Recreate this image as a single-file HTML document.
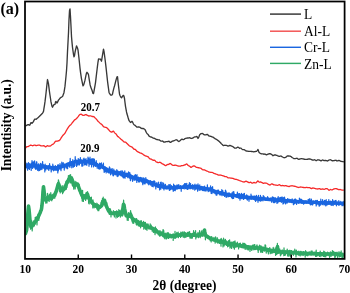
<!DOCTYPE html>
<html><head><meta charset="utf-8">
<style>
html,body{margin:0;padding:0;background:#fff;}
body{width:350px;height:293px;overflow:hidden;position:relative;}
svg{position:absolute;left:0;top:0;filter:blur(0.3px);}
text{font-family:"Liberation Serif",serif;}
</style></head>
<body>
<svg width="350" height="293" viewBox="0 0 350 293">
<defs><clipPath id="pc"><rect x="25.6" y="2.4" width="318.2" height="255.6"/></clipPath></defs>
<g fill="none" stroke-linejoin="round" stroke-linecap="round" clip-path="url(#pc)">
<path d="M25.0 233.0L25.5 233.5L26.0 232.0L26.5 230.5L27.0 226.4L27.5 218.3L28.0 211.4L28.5 206.1L29.0 209.2L29.5 214.7L30.0 220.4L30.5 224.5L31.0 226.9L31.5 226.4L32.0 226.0L32.5 225.5L33.0 224.8L33.5 224.2L34.0 223.5L34.5 222.8L35.0 222.2L35.5 221.5L36.0 220.7L36.5 219.9L37.0 219.2L37.5 218.2L38.0 217.2L38.5 216.2L39.0 215.1L39.5 214.0L40.0 212.9L40.5 211.7L41.0 210.4L41.5 209.0L42.0 205.3L42.5 200.0L43.0 191.4L43.5 186.8L44.0 190.5L44.5 196.2L45.0 199.4L45.5 199.5L46.0 199.0L46.5 198.4L47.0 197.8L47.5 197.5L48.0 197.3L48.5 197.2L49.0 197.1L49.5 197.0L50.0 197.2L50.5 197.4L51.0 197.6L51.5 197.9L52.0 197.8L52.5 197.4L53.0 196.9L53.5 196.5L54.0 196.0L54.5 195.0L55.0 194.0L55.5 192.9L56.0 191.9L56.5 190.4L57.0 188.6L57.5 186.8L58.0 185.0L58.5 183.7L59.0 184.9L59.5 186.1L60.0 187.3L60.5 188.5L61.0 189.2L61.5 189.5L62.0 189.9L62.5 190.2L63.0 190.3L63.5 189.5L64.0 188.8L64.5 188.0L65.0 187.2L65.5 186.1L66.0 185.0L66.5 183.8L67.0 182.7L67.5 181.7L68.0 180.8L68.5 179.9L69.0 179.0L69.5 178.2L70.0 177.8L70.5 177.6L71.0 177.8L71.5 178.2L72.0 179.2L72.5 181.0L73.0 182.9L73.5 185.1L74.0 185.7L74.5 185.1L75.0 184.6L75.5 184.4L76.0 184.3L76.5 184.2L77.0 184.1L77.5 184.0L78.0 185.4L78.5 186.7L79.0 188.1L79.5 189.5L80.0 190.7L80.5 191.9L81.0 193.1L81.5 194.3L82.0 195.5L82.5 195.6L83.0 195.7L83.5 195.8L84.0 195.9L84.5 196.0L85.0 195.8L85.5 195.7L86.0 195.6L86.5 195.5L87.0 193.7L87.5 194.2L88.0 196.2L88.5 197.4L89.0 198.2L89.5 198.9L90.0 199.7L90.5 200.4L91.0 201.1L91.5 201.8L92.0 202.5L92.5 203.0L93.0 203.5L93.5 204.0L94.0 204.5L94.5 204.9L95.0 205.2L95.5 205.6L96.0 206.0L96.5 206.2L97.0 206.4L97.5 206.6L98.0 206.8L98.5 207.0L99.0 206.8L99.5 206.7L100.0 206.5L100.5 206.3L101.0 206.1L101.5 205.8L102.0 204.9L102.5 203.9L103.0 203.0L103.5 201.7L104.0 200.3L104.5 200.2L105.0 201.9L105.5 203.6L106.0 205.2L106.5 206.3L107.0 207.4L107.5 208.5L108.0 209.5L108.5 210.5L109.0 211.5L109.5 212.0L110.0 212.3L110.5 212.6L111.0 212.9L111.5 213.3L112.0 213.4L112.5 213.4L113.0 213.4L113.5 213.4L114.0 213.4L114.5 213.3L115.0 213.2L115.5 213.0L116.0 212.9L116.5 212.7L117.0 212.6L117.5 212.8L118.0 213.0L118.5 213.1L119.0 213.3L119.5 213.4L120.0 213.6L120.5 213.8L121.0 214.0L121.5 214.1L122.0 214.3L122.5 211.0L123.0 207.7L123.5 204.3L124.0 205.0L124.5 208.3L125.0 210.6L125.5 212.7L126.0 214.8L126.5 215.9L127.0 215.8L127.5 215.6L128.0 215.4L128.5 215.2L129.0 215.1L129.5 214.8L130.0 214.6L130.5 214.3L131.0 215.3L131.5 216.6L132.0 217.8L132.5 218.7L133.0 219.1L133.5 219.4L134.0 219.7L134.5 220.0L135.0 220.4L135.5 220.7L136.0 221.0L136.5 221.4L137.0 221.7L137.5 222.0L138.0 222.2L138.5 222.4L139.0 222.6L139.5 222.8L140.0 223.0L140.5 223.2L141.0 223.5L141.5 223.8L142.0 224.0L142.5 224.2L143.0 224.5L143.5 224.8L144.0 225.0L144.5 225.2L145.0 225.5L145.5 225.8L146.0 226.0L146.5 226.2L147.0 226.5L147.5 226.8L148.0 227.0L148.5 227.1L149.0 227.2L149.5 227.4L150.0 227.5L150.5 227.6L151.0 227.8L151.5 227.9L152.0 228.0L152.5 228.4L153.0 228.8L153.5 229.1L154.0 229.5L154.5 229.9L155.0 230.2L155.5 230.6L156.0 231.0L156.5 231.2L157.0 231.5L157.5 231.8L158.0 232.0L158.5 232.2L159.0 232.5L159.5 232.8L160.0 233.0L160.5 233.2L161.0 233.5L161.5 233.8L162.0 234.0L162.5 234.2L163.0 234.5L163.5 234.8L164.0 235.0L164.5 235.1L165.0 235.1L165.5 235.2L166.0 235.2L166.5 235.2L167.0 235.3L167.5 235.3L168.0 235.4L168.5 235.5L169.0 235.6L169.5 235.6L170.0 235.7L170.5 235.8L171.0 235.8L171.5 235.9L172.0 236.0L172.5 236.0L173.0 236.0L173.5 236.0L174.0 236.0L174.5 236.0L175.0 236.0L175.5 236.0L176.0 236.0L176.5 235.9L177.0 235.8L177.5 235.6L178.0 235.5L178.5 235.4L179.0 235.2L179.5 235.1L180.0 235.0L180.5 234.9L181.0 234.9L181.5 234.8L182.0 234.8L182.5 234.8L183.0 234.7L183.5 234.7L184.0 234.6L184.5 234.6L185.0 234.7L185.5 234.7L186.0 234.7L186.5 234.7L187.0 234.8L187.5 234.8L188.0 234.8L188.5 234.8L189.0 234.9L189.5 234.9L190.0 234.9L190.5 234.9L191.0 234.9L191.5 235.0L192.0 235.0L192.5 235.0L193.0 235.1L193.5 235.1L194.0 235.1L194.5 235.1L195.0 235.1L195.5 235.2L196.0 235.2L196.5 235.2L197.0 235.1L197.5 235.1L198.0 235.1L198.5 235.1L199.0 235.1L199.5 235.0L200.0 235.0L200.5 234.8L201.0 234.5L201.5 234.2L202.0 234.0L202.5 233.8L203.0 233.5L203.5 233.2L204.0 233.0L204.5 230.0L205.0 235.0L205.5 235.3L206.0 235.6L206.5 235.9L207.0 236.3L207.5 236.6L208.0 236.9L208.5 237.2L209.0 237.5L209.5 237.9L210.0 238.2L210.5 238.5L211.0 238.8L211.5 239.0L212.0 239.1L212.5 239.3L213.0 239.5L213.5 239.6L214.0 239.8L214.5 240.0L215.0 240.1L215.5 240.3L216.0 240.5L216.5 240.6L217.0 240.8L217.5 240.9L218.0 241.1L218.5 241.2L219.0 241.4L219.5 241.5L220.0 241.6L220.5 241.8L221.0 241.9L221.5 242.0L222.0 242.2L222.5 242.3L223.0 242.4L223.5 242.6L224.0 242.7L224.5 242.9L225.0 243.0L225.5 243.1L226.0 243.2L226.5 243.3L227.0 243.4L227.5 243.5L228.0 243.6L228.5 243.7L229.0 243.8L229.5 243.9L230.0 244.0L230.5 244.1L231.0 244.2L231.5 244.3L232.0 244.4L232.5 244.5L233.0 244.6L233.5 244.7L234.0 244.8L234.5 244.9L235.0 244.9L235.5 245.0L236.0 245.1L236.5 245.2L237.0 245.3L237.5 245.4L238.0 245.5L238.5 245.6L239.0 245.7L239.5 245.7L240.0 245.8L240.5 245.9L241.0 246.0L241.5 246.1L242.0 246.1L242.5 246.2L243.0 246.2L243.5 246.3L244.0 246.4L244.5 246.4L245.0 246.5L245.5 246.6L246.0 246.6L246.5 246.7L247.0 246.8L247.5 246.8L248.0 246.9L248.5 246.9L249.0 247.0L249.5 247.1L250.0 247.1L250.5 247.2L251.0 247.2L251.5 247.3L252.0 247.4L252.5 247.4L253.0 247.5L253.5 247.6L254.0 247.6L254.5 247.7L255.0 247.8L255.5 247.8L256.0 247.9L256.5 247.9L257.0 248.0L257.5 248.1L258.0 248.1L258.5 248.2L259.0 248.2L259.5 248.3L260.0 248.4L260.5 248.4L261.0 248.5L261.5 248.6L262.0 248.6L262.5 248.7L263.0 248.8L263.5 248.8L264.0 248.9L264.5 248.9L265.0 249.0L265.5 249.1L266.0 249.2L266.5 249.4L267.0 249.5L267.5 249.6L268.0 249.8L268.5 249.9L269.0 250.0L269.5 250.1L270.0 250.2L270.5 250.4L271.0 250.5L271.5 250.6L272.0 250.8L272.5 250.9L273.0 251.0L273.5 251.1L274.0 251.1L274.5 251.2L275.0 251.3L275.5 251.3L276.0 251.4L276.5 251.5L277.0 249.5L277.5 246.6L278.0 252.0L278.5 252.0L279.0 252.0L279.5 252.0L280.0 252.0L280.5 252.0L281.0 252.0L281.5 252.0L282.0 252.0L282.5 252.0L283.0 252.0L283.5 252.0L284.0 252.0L284.5 252.0L285.0 252.0L285.5 252.0L286.0 252.1L286.5 252.1L287.0 252.2L287.5 252.2L288.0 252.2L288.5 252.3L289.0 252.3L289.5 252.4L290.0 252.4L290.5 252.4L291.0 252.5L291.5 252.5L292.0 252.6L292.5 252.6L293.0 252.6L293.5 252.7L294.0 252.7L294.5 252.8L295.0 252.8L295.5 252.8L296.0 252.9L296.5 252.9L297.0 252.9L297.5 253.0L298.0 253.0L298.5 253.0L299.0 253.1L299.5 253.1L300.0 253.2L300.5 253.2L301.0 253.2L301.5 253.3L302.0 253.3L302.5 253.3L303.0 253.4L303.5 253.4L304.0 253.4L304.5 253.5L305.0 253.5L305.5 253.5L306.0 253.5L306.5 253.5L307.0 253.6L307.5 253.6L308.0 253.6L308.5 253.6L309.0 253.6L309.5 253.6L310.0 253.7L310.5 253.7L311.0 253.7L311.5 253.7L312.0 253.7L312.5 253.7L313.0 253.7L313.5 253.8L314.0 253.8L314.5 253.8L315.0 253.8L315.5 253.8L316.0 253.8L316.5 253.8L317.0 253.8L317.5 253.9L318.0 253.9L318.5 253.9L319.0 253.9L319.5 253.9L320.0 253.9L320.5 253.9L321.0 253.9L321.5 253.9L322.0 253.9L322.5 253.9L323.0 254.0L323.5 254.0L324.0 254.0L324.5 254.0L325.0 254.0L325.5 254.0L326.0 254.0L326.5 254.0L327.0 254.0L327.5 254.0L328.0 254.0L328.5 254.0L329.0 254.0L329.5 254.0L330.0 254.0L330.5 254.0L331.0 254.0L331.5 254.0L332.0 254.0L332.5 254.0L333.0 254.0L333.5 254.0L334.0 254.0L334.5 254.0L335.0 254.0L335.5 254.0L336.0 254.1L336.5 254.1L337.0 254.1L337.5 254.2L338.0 254.2L338.5 254.2L339.0 254.3L339.5 254.3L340.0 254.3L340.5 254.4L341.0 254.4L341.5 254.4L342.0 254.5L342.5 254.5L343.0 254.5L343.5 254.6L344.0 254.6" stroke="#2fa965" stroke-width="3.6"/>
<path d="M25.0 233.1L25.2 234.4L25.4 230.9L25.6 234.9L25.8 231.6L26.0 228.0L26.2 229.8L26.4 232.3L26.6 231.0L26.8 226.7L27.0 227.9L27.2 222.9L27.4 221.0L27.6 217.5L27.8 210.6L28.0 212.3L28.2 207.7L28.4 211.0L28.6 206.8L28.8 207.2L29.0 206.8L29.2 211.5L29.4 213.9L29.6 212.8L29.8 223.6L30.0 221.4L30.2 226.9L30.4 221.2L30.6 229.2L30.8 223.0L31.0 225.3L31.2 228.1L31.4 226.7L31.6 220.6L31.8 223.4L32.0 228.1L32.2 231.0L32.4 227.9L32.6 224.7L32.8 227.1L33.0 222.0L33.2 225.8L33.4 220.9L33.6 224.0L33.8 223.4L34.0 225.5L34.2 222.5L34.4 226.0L34.6 222.2L34.8 224.5L35.0 224.1L35.2 217.3L35.4 221.7L35.6 221.4L35.8 219.1L36.0 221.2L36.2 216.8L36.4 221.5L36.6 221.0L36.8 220.2L37.0 224.9L37.2 219.7L37.4 218.6L37.6 216.2L37.8 218.3L38.0 214.8L38.2 220.0L38.4 214.8L38.6 216.4L38.8 220.5L39.0 218.0L39.2 215.3L39.4 217.7L39.6 213.7L39.8 215.3L40.0 213.0L40.2 210.3L40.4 213.0L40.6 213.8L40.8 210.0L41.0 207.6L41.2 208.5L41.4 203.6L41.6 207.3L41.8 204.8L42.0 210.3L42.2 201.8L42.4 197.2L42.6 200.4L42.8 194.4L43.0 191.5L43.2 188.5L43.4 187.7L43.6 185.5L43.8 189.9L44.0 191.8L44.2 192.3L44.4 195.2L44.6 194.5L44.8 198.8L45.0 201.2L45.2 201.5L45.4 201.2L45.6 199.1L45.8 203.1L46.0 198.5L46.2 198.8L46.4 197.7L46.6 198.5L46.8 197.5L47.0 202.9L47.2 198.7L47.4 193.3L47.6 196.4L47.8 193.9L48.0 199.5L48.2 200.7L48.4 196.1L48.6 198.7L48.8 196.7L49.0 198.1L49.2 201.4L49.4 196.2L49.6 194.0L49.8 198.9L50.0 198.5L50.2 198.9L50.4 199.9L50.6 195.8L50.8 192.7L51.0 200.2L51.2 196.7L51.4 194.8L51.6 195.0L51.8 200.8L52.0 198.3L52.2 198.4L52.4 199.5L52.6 195.6L52.8 194.3L53.0 194.8L53.2 194.0L53.4 195.8L53.6 194.2L53.8 196.3L54.0 194.8L54.2 195.4L54.4 196.8L54.6 198.2L54.8 198.2L55.0 194.2L55.2 194.1L55.4 191.9L55.6 195.2L55.8 196.1L56.0 190.4L56.2 193.4L56.4 190.0L56.6 189.6L56.8 189.8L57.0 187.6L57.2 190.1L57.4 183.5L57.6 184.7L57.8 185.4L58.0 182.4L58.2 185.1L58.4 179.8L58.6 184.1L58.8 180.9L59.0 184.6L59.2 186.7L59.4 191.3L59.6 189.0L59.8 190.8L60.0 187.5L60.2 193.0L60.4 187.7L60.6 188.1L60.8 185.9L61.0 189.7L61.2 191.9L61.4 187.9L61.6 188.7L61.8 188.6L62.0 189.1L62.2 188.6L62.4 186.9L62.6 193.7L62.8 185.6L63.0 188.1L63.2 190.9L63.4 192.2L63.6 188.9L63.8 188.4L64.0 188.9L64.2 187.8L64.4 190.3L64.6 186.6L64.8 185.1L65.0 186.0L65.2 187.0L65.4 189.3L65.6 189.8L65.8 184.4L66.0 181.4L66.2 181.1L66.4 189.2L66.6 182.6L66.8 184.3L67.0 187.4L67.2 180.6L67.4 181.4L67.6 180.1L67.8 178.5L68.0 182.7L68.2 183.0L68.4 175.5L68.6 182.1L68.8 178.8L69.0 179.5L69.2 179.2L69.4 175.2L69.6 177.2L69.8 175.5L70.0 182.5L70.2 183.1L70.4 177.8L70.6 174.7L70.8 180.4L71.0 177.3L71.2 182.2L71.4 182.9L71.6 182.4L71.8 177.5L72.0 176.8L72.2 178.3L72.4 180.4L72.6 179.2L72.8 185.0L73.0 184.5L73.2 183.7L73.4 183.7L73.6 187.1L73.8 189.2L74.0 181.0L74.2 186.0L74.4 184.5L74.6 183.2L74.8 184.0L75.0 184.9L75.2 189.0L75.4 184.6L75.6 183.4L75.8 181.4L76.0 186.2L76.2 182.4L76.4 184.0L76.6 185.9L76.8 184.3L77.0 183.2L77.2 183.6L77.4 186.2L77.6 184.2L77.8 185.4L78.0 186.4L78.2 185.1L78.4 187.3L78.6 186.3L78.8 190.3L79.0 189.3L79.2 184.4L79.4 188.7L79.6 192.4L79.8 189.7L80.0 189.7L80.2 193.6L80.4 189.0L80.6 192.3L80.8 194.1L81.0 195.2L81.2 191.1L81.4 191.0L81.6 198.2L81.8 193.1L82.0 195.3L82.2 201.1L82.4 194.5L82.6 190.3L82.8 201.2L83.0 198.2L83.2 196.6L83.4 201.4L83.6 195.7L83.8 199.4L84.0 196.0L84.2 195.3L84.4 197.5L84.6 198.1L84.8 199.0L85.0 198.7L85.2 194.6L85.4 195.6L85.6 200.4L85.8 197.1L86.0 195.8L86.2 198.8L86.4 198.9L86.6 198.3L86.8 193.1L87.0 192.8L87.2 194.8L87.4 196.7L87.6 191.7L87.8 194.3L88.0 195.6L88.2 199.4L88.4 194.7L88.6 203.2L88.8 198.1L89.0 199.7L89.2 203.9L89.4 200.3L89.6 200.9L89.8 199.0L90.0 200.8L90.2 197.5L90.4 200.1L90.6 200.7L90.8 198.5L91.0 203.6L91.2 202.5L91.4 197.2L91.6 203.9L91.8 200.0L92.0 203.9L92.2 200.8L92.4 202.1L92.6 204.1L92.8 208.0L93.0 199.9L93.2 202.9L93.4 203.1L93.6 206.8L93.8 203.7L94.0 205.5L94.2 207.9L94.4 206.7L94.6 204.0L94.8 204.1L95.0 204.6L95.2 205.8L95.4 203.5L95.6 205.6L95.8 207.3L96.0 204.9L96.2 205.0L96.4 206.9L96.6 208.2L96.8 203.1L97.0 204.1L97.2 209.6L97.4 206.5L97.6 204.0L97.8 207.0L98.0 210.6L98.2 205.4L98.4 204.7L98.6 206.4L98.8 210.7L99.0 205.3L99.2 208.0L99.4 209.1L99.6 208.1L99.8 205.7L100.0 208.0L100.2 206.8L100.4 208.3L100.6 207.2L100.8 206.6L101.0 202.0L101.2 207.6L101.4 205.7L101.6 200.7L101.8 205.1L102.0 205.6L102.2 204.2L102.4 198.6L102.6 202.0L102.8 201.1L103.0 202.2L103.2 197.0L103.4 202.6L103.6 202.7L103.8 202.2L104.0 200.2L104.2 199.5L104.4 202.2L104.6 201.6L104.8 200.2L105.0 202.6L105.2 204.2L105.4 206.1L105.6 205.1L105.8 202.8L106.0 204.1L106.2 206.2L106.4 206.8L106.6 209.0L106.8 202.6L107.0 205.8L107.2 205.2L107.4 210.9L107.6 210.5L107.8 209.9L108.0 211.4L108.2 208.6L108.4 211.6L108.6 210.9L108.8 211.3L109.0 211.2L109.2 214.0L109.4 214.4L109.6 208.7L109.8 211.0L110.0 212.5L110.2 213.8L110.4 208.8L110.6 210.6L110.8 212.1L111.0 217.0L111.2 211.1L111.4 212.3L111.6 213.3L111.8 213.2L112.0 213.8L112.2 213.4L112.4 213.0L112.6 214.1L112.8 214.1L113.0 214.3L113.2 214.3L113.4 210.7L113.6 213.8L113.8 213.8L114.0 215.2L114.2 215.0L114.4 216.9L114.6 211.5L114.8 213.0L115.0 213.7L115.2 211.7L115.4 212.5L115.6 212.2L115.8 211.9L116.0 218.1L116.2 212.7L116.4 216.1L116.6 210.8L116.8 213.3L117.0 211.2L117.2 213.5L117.4 216.6L117.6 217.3L117.8 214.8L118.0 214.0L118.2 213.1L118.4 214.0L118.6 216.3L118.8 209.6L119.0 212.6L119.2 211.2L119.4 215.7L119.6 210.7L119.8 215.5L120.0 211.1L120.2 211.3L120.4 217.2L120.6 216.2L120.8 211.9L121.0 210.1L121.2 212.0L121.4 215.5L121.6 214.2L121.8 212.2L122.0 215.6L122.2 216.1L122.4 209.2L122.6 210.2L122.8 207.2L123.0 210.2L123.2 206.6L123.4 203.6L123.6 200.0L123.8 205.3L124.0 204.4L124.2 206.7L124.4 207.3L124.6 210.0L124.8 206.0L125.0 208.9L125.2 212.3L125.4 216.4L125.6 213.9L125.8 213.8L126.0 213.4L126.2 214.2L126.4 215.5L126.6 214.2L126.8 216.2L127.0 215.8L127.2 220.2L127.4 215.5L127.6 218.1L127.8 214.6L128.0 217.6L128.2 220.5L128.4 214.1L128.6 212.7L128.8 217.6L129.0 215.3L129.2 214.5L129.4 215.9L129.6 215.5L129.8 217.5L130.0 215.6L130.2 213.3L130.4 212.1L130.6 210.6L130.8 212.5L131.0 217.8L131.2 212.8L131.4 216.5L131.6 219.6L131.8 218.7L132.0 221.3L132.2 220.1L132.4 222.2L132.6 217.6L132.8 217.2L133.0 223.4L133.2 220.0L133.4 219.6L133.6 218.3L133.8 223.2L134.0 220.9L134.2 221.0L134.4 218.7L134.6 220.4L134.8 219.4L135.0 220.2L135.2 221.3L135.4 219.6L135.6 219.0L135.8 222.7L136.0 218.9L136.2 224.3L136.4 224.7L136.6 218.5L136.8 225.1L137.0 220.0L137.2 224.8L137.4 220.8L137.6 223.8L137.8 220.0L138.0 223.7L138.2 222.6L138.4 225.9L138.6 224.2L138.8 220.7L139.0 223.4L139.2 221.3L139.4 223.2L139.6 226.2L139.8 226.4L140.0 223.4L140.2 221.4L140.4 223.5L140.6 227.8L140.8 223.2L141.0 220.5L141.2 220.7L141.4 221.2L141.6 226.2L141.8 223.3L142.0 222.5L142.2 224.9L142.4 226.3L142.6 224.1L142.8 222.8L143.0 225.0L143.2 226.4L143.4 221.3L143.6 221.9L143.8 229.2L144.0 226.0L144.2 225.9L144.4 222.3L144.6 223.3L144.8 224.9L145.0 228.2L145.2 225.9L145.4 222.3L145.6 229.1L145.8 229.3L146.0 227.9L146.2 223.9L146.4 224.9L146.6 225.8L146.8 226.7L147.0 230.3L147.2 223.8L147.4 225.3L147.6 226.8L147.8 225.8L148.0 226.0L148.2 224.0L148.4 227.2L148.6 226.5L148.8 227.6L149.0 229.2L149.2 226.8L149.4 227.1L149.6 228.0L149.8 226.5L150.0 227.9L150.2 223.9L150.4 225.8L150.6 228.7L150.8 228.1L151.0 229.5L151.2 225.0L151.4 226.8L151.6 227.7L151.8 227.8L152.0 227.5L152.2 231.1L152.4 227.3L152.6 227.8L152.8 229.7L153.0 229.7L153.2 229.2L153.4 232.5L153.6 230.4L153.8 228.9L154.0 227.5L154.2 232.2L154.4 228.5L154.6 230.8L154.8 229.0L155.0 234.6L155.2 231.9L155.4 226.9L155.6 231.3L155.8 228.0L156.0 229.8L156.2 232.8L156.4 228.5L156.6 232.0L156.8 231.2L157.0 233.0L157.2 229.6L157.4 233.0L157.6 231.0L157.8 234.0L158.0 232.1L158.2 233.4L158.4 234.9L158.6 234.5L158.8 232.3L159.0 233.9L159.2 232.6L159.4 233.5L159.6 236.1L159.8 231.1L160.0 230.5L160.2 234.0L160.4 232.0L160.6 235.8L160.8 235.1L161.0 234.7L161.2 233.5L161.4 232.7L161.6 231.9L161.8 232.7L162.0 233.9L162.2 232.1L162.4 236.2L162.6 235.5L162.8 231.7L163.0 229.7L163.2 236.8L163.4 232.2L163.6 230.0L163.8 231.4L164.0 235.4L164.2 237.8L164.4 236.9L164.6 238.0L164.8 238.7L165.0 238.9L165.2 233.1L165.4 234.7L165.6 233.9L165.8 235.3L166.0 234.5L166.2 235.8L166.4 239.0L166.6 233.8L166.8 236.8L167.0 233.3L167.2 232.7L167.4 237.4L167.6 235.1L167.8 235.5L168.0 238.4L168.2 232.7L168.4 235.6L168.6 238.5L168.8 233.4L169.0 236.1L169.2 237.5L169.4 237.5L169.6 237.0L169.8 237.7L170.0 236.7L170.2 237.3L170.4 236.6L170.6 234.0L170.8 236.1L171.0 235.6L171.2 238.2L171.4 237.0L171.6 237.0L171.8 236.4L172.0 237.4L172.2 234.9L172.4 236.6L172.6 234.6L172.8 235.3L173.0 233.8L173.2 240.5L173.4 237.3L173.6 234.1L173.8 235.3L174.0 236.7L174.2 235.1L174.4 237.5L174.6 236.9L174.8 238.4L175.0 231.3L175.2 237.6L175.4 236.5L175.6 238.1L175.8 234.9L176.0 234.5L176.2 233.7L176.4 236.9L176.6 236.2L176.8 232.4L177.0 234.6L177.2 235.7L177.4 233.3L177.6 234.9L177.8 235.4L178.0 234.4L178.2 232.2L178.4 237.7L178.6 235.9L178.8 236.0L179.0 234.1L179.2 235.6L179.4 233.8L179.6 234.9L179.8 235.3L180.0 236.2L180.2 233.8L180.4 233.4L180.6 237.5L180.8 232.1L181.0 235.3L181.2 234.7L181.4 236.3L181.6 234.0L181.8 232.8L182.0 235.1L182.2 232.1L182.4 232.7L182.6 234.7L182.8 235.0L183.0 231.8L183.2 237.2L183.4 234.6L183.6 237.1L183.8 236.8L184.0 234.7L184.2 233.8L184.4 231.8L184.6 236.6L184.8 237.7L185.0 235.0L185.2 234.8L185.4 232.9L185.6 232.7L185.8 234.5L186.0 237.2L186.2 234.2L186.4 236.5L186.6 235.5L186.8 234.5L187.0 233.1L187.2 234.0L187.4 232.4L187.6 236.5L187.8 235.8L188.0 232.9L188.2 233.5L188.4 232.2L188.6 235.2L188.8 236.1L189.0 233.1L189.2 234.0L189.4 235.7L189.6 231.6L189.8 235.4L190.0 238.1L190.2 238.2L190.4 234.7L190.6 234.9L190.8 236.5L191.0 236.4L191.2 238.0L191.4 235.6L191.6 235.8L191.8 235.8L192.0 238.5L192.2 233.3L192.4 237.7L192.6 235.7L192.8 235.8L193.0 233.6L193.2 235.2L193.4 233.5L193.6 230.5L193.8 235.8L194.0 232.7L194.2 235.5L194.4 232.8L194.6 234.6L194.8 234.6L195.0 232.0L195.2 235.4L195.4 234.2L195.6 230.7L195.8 239.0L196.0 236.4L196.2 236.1L196.4 235.5L196.6 237.1L196.8 234.4L197.0 236.8L197.2 237.2L197.4 234.4L197.6 235.5L197.8 235.7L198.0 232.4L198.2 236.0L198.4 235.2L198.6 237.7L198.8 235.6L199.0 233.6L199.2 235.5L199.4 234.2L199.6 230.6L199.8 234.8L200.0 232.7L200.2 237.6L200.4 235.6L200.6 236.6L200.8 235.4L201.0 234.2L201.2 235.9L201.4 231.4L201.6 235.9L201.8 234.0L202.0 230.3L202.2 233.7L202.4 235.1L202.6 232.9L202.8 236.4L203.0 236.1L203.2 232.3L203.4 231.9L203.6 232.9L203.8 232.3L204.0 234.5L204.2 233.3L204.4 230.4L204.6 232.5L204.8 233.0L205.0 234.9L205.2 233.9L205.4 239.8L205.6 237.3L205.8 236.8L206.0 234.5L206.2 232.9L206.4 234.6L206.6 235.3L206.8 235.6L207.0 237.6L207.2 235.8L207.4 237.9L207.6 237.7L207.8 238.2L208.0 236.8L208.2 238.7L208.4 237.6L208.6 237.8L208.8 237.2L209.0 237.4L209.2 238.2L209.4 239.2L209.6 236.7L209.8 237.6L210.0 238.4L210.2 240.6L210.4 238.6L210.6 239.9L210.8 240.6L211.0 239.0L211.2 242.0L211.4 237.2L211.6 236.5L211.8 237.0L212.0 237.7L212.2 238.2L212.4 238.8L212.6 240.1L212.8 238.6L213.0 238.5L213.2 240.8L213.4 239.4L213.6 240.2L213.8 239.0L214.0 237.4L214.2 239.8L214.4 239.8L214.6 240.8L214.8 240.1L215.0 238.6L215.2 243.1L215.4 238.0L215.6 236.8L215.8 239.2L216.0 239.5L216.2 241.5L216.4 239.5L216.6 240.7L216.8 241.2L217.0 242.1L217.2 237.7L217.4 241.4L217.6 238.6L217.8 243.1L218.0 239.6L218.2 239.8L218.4 242.2L218.6 241.2L218.8 241.1L219.0 242.7L219.2 240.4L219.4 240.3L219.6 243.5L219.8 240.5L220.0 242.0L220.2 239.3L220.4 241.7L220.6 241.2L220.8 242.6L221.0 246.2L221.2 238.3L221.4 240.1L221.6 241.4L221.8 242.4L222.0 239.4L222.2 242.1L222.4 240.7L222.6 242.5L222.8 240.6L223.0 246.9L223.2 242.9L223.4 243.9L223.6 238.2L223.8 241.1L224.0 242.4L224.2 246.0L224.4 241.2L224.6 243.6L224.8 241.2L225.0 242.7L225.2 239.4L225.4 239.4L225.6 241.6L225.8 244.8L226.0 244.8L226.2 242.9L226.4 240.8L226.6 245.5L226.8 242.7L227.0 241.6L227.2 242.7L227.4 243.0L227.6 246.8L227.8 243.5L228.0 242.6L228.2 242.8L228.4 240.7L228.6 246.1L228.8 241.9L229.0 244.0L229.2 242.0L229.4 242.4L229.6 239.8L229.8 244.1L230.0 248.2L230.2 247.5L230.4 244.9L230.6 246.8L230.8 242.7L231.0 242.0L231.2 246.4L231.4 243.0L231.6 248.4L231.8 247.0L232.0 242.2L232.2 243.8L232.4 243.8L232.6 246.0L232.8 243.8L233.0 244.5L233.2 241.8L233.4 247.7L233.6 246.4L233.8 244.9L234.0 241.7L234.2 245.1L234.4 249.2L234.6 245.7L234.8 247.3L235.0 240.9L235.2 244.4L235.4 244.6L235.6 247.1L235.8 243.2L236.0 246.7L236.2 247.2L236.4 245.4L236.6 244.9L236.8 246.1L237.0 243.3L237.2 242.3L237.4 242.1L237.6 245.7L237.8 244.8L238.0 245.2L238.2 244.4L238.4 245.3L238.6 249.0L238.8 244.9L239.0 243.8L239.2 243.3L239.4 243.8L239.6 246.7L239.8 245.3L240.0 245.0L240.2 245.3L240.4 243.1L240.6 244.1L240.8 245.1L241.0 245.1L241.2 246.4L241.4 247.6L241.6 244.7L241.8 246.5L242.0 246.7L242.2 244.9L242.4 247.0L242.6 247.9L242.8 243.0L243.0 246.9L243.2 246.9L243.4 246.7L243.6 243.3L243.8 248.1L244.0 246.0L244.2 244.7L244.4 243.3L244.6 247.1L244.8 246.0L245.0 243.8L245.2 249.4L245.4 244.1L245.6 247.7L245.8 244.7L246.0 246.1L246.2 247.8L246.4 246.1L246.6 247.6L246.8 246.7L247.0 249.5L247.2 248.1L247.4 247.7L247.6 245.5L247.8 246.1L248.0 247.3L248.2 250.1L248.4 249.7L248.6 247.3L248.8 249.2L249.0 247.3L249.2 247.5L249.4 247.2L249.6 246.6L249.8 248.1L250.0 251.4L250.2 246.7L250.4 249.4L250.6 249.0L250.8 247.4L251.0 248.8L251.2 246.6L251.4 247.7L251.6 250.1L251.8 250.4L252.0 247.5L252.2 247.2L252.4 245.1L252.6 248.9L252.8 246.6L253.0 246.0L253.2 248.0L253.4 247.6L253.6 245.0L253.8 249.8L254.0 244.6L254.2 244.6L254.4 249.4L254.6 247.1L254.8 244.5L255.0 249.6L255.2 249.4L255.4 247.4L255.6 247.6L255.8 248.1L256.0 249.3L256.2 247.6L256.4 245.8L256.6 247.7L256.8 247.0L257.0 244.9L257.2 247.0L257.4 246.0L257.6 248.2L257.8 250.2L258.0 249.0L258.2 252.4L258.4 248.9L258.6 248.4L258.8 246.5L259.0 249.8L259.2 248.9L259.4 245.2L259.6 247.1L259.8 249.5L260.0 247.5L260.2 249.1L260.4 248.8L260.6 252.2L260.8 245.7L261.0 248.2L261.2 246.0L261.4 246.9L261.6 252.1L261.8 250.3L262.0 249.7L262.2 248.5L262.4 248.7L262.6 252.4L262.8 246.8L263.0 251.1L263.2 250.8L263.4 247.1L263.6 249.3L263.8 247.6L264.0 249.0L264.2 250.5L264.4 249.5L264.6 251.2L264.8 250.4L265.0 244.9L265.2 250.6L265.4 246.8L265.6 245.0L265.8 248.6L266.0 248.3L266.2 253.1L266.4 251.3L266.6 251.0L266.8 249.6L267.0 251.2L267.2 248.4L267.4 251.7L267.6 248.9L267.8 249.5L268.0 250.3L268.2 248.6L268.4 254.0L268.6 250.3L268.8 249.3L269.0 248.4L269.2 248.9L269.4 250.1L269.6 251.2L269.8 247.6L270.0 249.5L270.2 253.7L270.4 251.0L270.6 250.5L270.8 249.8L271.0 250.1L271.2 250.9L271.4 253.2L271.6 253.2L271.8 249.8L272.0 249.2L272.2 251.8L272.4 249.9L272.6 252.7L272.8 253.0L273.0 249.7L273.2 247.3L273.4 248.6L273.6 250.9L273.8 249.0L274.0 251.7L274.2 251.5L274.4 251.3L274.6 250.9L274.8 250.0L275.0 252.3L275.2 247.8L275.4 252.1L275.6 255.5L275.8 253.7L276.0 251.4L276.2 250.9L276.4 252.1L276.6 251.2L276.8 254.5L277.0 248.5L277.2 247.2L277.4 243.4L277.6 248.7L277.8 247.0L278.0 253.5L278.2 253.0L278.4 249.7L278.6 252.7L278.8 251.5L279.0 251.0L279.2 249.6L279.4 249.1L279.6 249.4L279.8 249.0L280.0 252.0L280.2 250.2L280.4 255.8L280.6 252.6L280.8 254.0L281.0 250.8L281.2 254.8L281.4 251.2L281.6 253.7L281.8 252.6L282.0 253.2L282.2 249.9L282.4 250.3L282.6 253.7L282.8 252.8L283.0 250.9L283.2 253.0L283.4 252.2L283.6 251.0L283.8 255.6L284.0 247.9L284.2 251.5L284.4 253.5L284.6 252.7L284.8 255.5L285.0 253.0L285.2 252.9L285.4 250.9L285.6 254.9L285.8 251.0L286.0 251.5L286.2 251.5L286.4 253.2L286.6 251.1L286.8 252.0L287.0 251.3L287.2 249.1L287.4 251.0L287.6 255.8L287.8 251.5L288.0 252.5L288.2 256.3L288.4 250.9L288.6 253.5L288.8 254.4L289.0 250.6L289.2 255.1L289.4 253.9L289.6 250.3L289.8 252.5L290.0 250.3L290.2 256.4L290.4 256.2L290.6 252.5L290.8 251.3L291.0 253.3L291.2 250.5L291.4 252.1L291.6 250.6L291.8 252.1L292.0 253.3L292.2 253.1L292.4 253.9L292.6 251.7L292.8 254.2L293.0 252.8L293.2 253.3L293.4 255.3L293.6 252.8L293.8 251.0L294.0 253.9L294.2 250.9L294.4 252.9L294.6 252.7L294.8 249.1L295.0 250.3L295.2 251.2L295.4 253.4L295.6 254.4L295.8 253.0L296.0 256.9L296.2 254.3L296.4 250.2L296.6 254.0L296.8 251.2L297.0 251.6L297.2 252.5L297.4 252.6L297.6 253.6L297.8 254.3L298.0 254.9L298.2 252.1L298.4 253.2L298.6 255.1L298.8 251.2L299.0 254.8L299.2 254.4L299.4 252.5L299.6 255.2L299.8 253.9L300.0 254.4L300.2 255.9L300.4 253.0L300.6 251.3L300.8 252.4L301.0 251.4L301.2 255.0L301.4 252.6L301.6 252.5L301.8 252.2L302.0 255.2L302.2 253.8L302.4 254.6L302.6 253.7L302.8 252.1L303.0 251.8L303.2 255.4L303.4 252.9L303.6 254.5L303.8 251.5L304.0 252.9L304.2 252.5L304.4 252.0L304.6 254.4L304.8 254.9L305.0 253.0L305.2 257.1L305.4 253.4L305.6 250.7L305.8 254.4L306.0 251.3L306.2 252.9L306.4 254.0L306.6 255.5L306.8 254.5L307.0 252.3L307.2 255.7L307.4 254.0L307.6 255.7L307.8 255.8L308.0 253.6L308.2 252.4L308.4 254.8L308.6 253.7L308.8 253.5L309.0 253.8L309.2 252.2L309.4 251.9L309.6 252.7L309.8 253.9L310.0 253.1L310.2 254.7L310.4 254.9L310.6 254.4L310.8 251.9L311.0 251.2L311.2 252.0L311.4 251.7L311.6 255.0L311.8 255.0L312.0 250.9L312.2 253.0L312.4 253.4L312.6 252.2L312.8 253.2L313.0 252.2L313.2 253.0L313.4 253.7L313.6 254.3L313.8 252.4L314.0 254.9L314.2 252.3L314.4 253.1L314.6 253.4L314.8 252.2L315.0 254.5L315.2 252.6L315.4 252.2L315.6 256.5L315.8 253.3L316.0 253.1L316.2 250.0L316.4 253.5L316.6 256.3L316.8 253.2L317.0 253.3L317.2 255.1L317.4 255.2L317.6 255.7L317.8 254.9L318.0 253.4L318.2 252.6L318.4 254.8L318.6 254.7L318.8 254.7L319.0 252.7L319.2 253.0L319.4 256.4L319.6 253.2L319.8 254.9L320.0 253.9L320.2 251.1L320.4 254.8L320.6 252.2L320.8 256.6L321.0 253.3L321.2 252.8L321.4 253.6L321.6 253.8L321.8 253.2L322.0 253.3L322.2 255.7L322.4 254.1L322.6 255.1L322.8 254.1L323.0 254.9L323.2 252.9L323.4 256.5L323.6 252.4L323.8 251.1L324.0 251.7L324.2 252.3L324.4 253.5L324.6 256.7L324.8 251.9L325.0 255.1L325.2 252.4L325.4 256.1L325.6 254.9L325.8 257.0L326.0 253.5L326.2 255.2L326.4 255.4L326.6 253.2L326.8 253.8L327.0 252.9L327.2 252.7L327.4 252.9L327.6 252.0L327.8 255.3L328.0 253.8L328.2 252.5L328.4 254.0L328.6 254.4L328.8 253.4L329.0 255.6L329.2 253.5L329.4 254.1L329.6 257.5L329.8 253.0L330.0 254.0L330.2 254.4L330.4 251.9L330.6 253.2L330.8 255.2L331.0 256.5L331.2 252.8L331.4 254.7L331.6 253.5L331.8 253.2L332.0 252.0L332.2 254.6L332.4 250.5L332.6 255.0L332.8 254.3L333.0 254.4L333.2 253.6L333.4 251.8L333.6 251.4L333.8 254.1L334.0 254.8L334.2 254.2L334.4 252.4L334.6 255.4L334.8 257.7L335.0 253.2L335.2 252.4L335.4 253.3L335.6 256.9L335.8 252.7L336.0 253.2L336.2 253.8L336.4 253.6L336.6 255.2L336.8 253.3L337.0 252.1L337.2 254.4L337.4 254.2L337.6 257.4L337.8 256.1L338.0 257.1L338.2 254.3L338.4 254.9L338.6 255.0L338.8 254.3L339.0 251.7L339.2 255.2L339.4 254.6L339.6 257.0L339.8 256.1L340.0 253.5L340.2 254.9L340.4 252.6L340.6 256.3L340.8 254.1L341.0 252.3L341.2 250.9L341.4 255.7L341.6 255.4L341.8 253.0L342.0 258.2L342.2 253.5L342.4 257.0L342.6 253.4L342.8 254.9L343.0 253.6L343.2 257.9L343.4 256.1L343.6 255.0L343.8 255.2L344.0 254.8" stroke="#2fa965" stroke-width="1.2"/>
<path d="M25.0 166.6L26.0 166.5L27.0 166.4L28.0 166.3L29.0 166.2L30.0 166.1L31.0 166.0L32.0 165.9L33.0 165.8L34.0 165.9L35.0 166.0L36.0 166.1L37.0 166.2L38.0 166.3L39.0 166.4L40.0 166.5L41.0 166.6L42.0 166.7L43.0 166.8L44.0 166.9L45.0 167.1L46.0 167.2L47.0 167.3L48.0 167.4L49.0 167.5L50.0 167.6L51.0 167.7L52.0 167.8L53.0 167.9L54.0 168.0L55.0 168.1L56.0 168.2L57.0 168.2L58.0 167.8L59.0 167.5L60.0 167.2L61.0 166.8L62.0 166.5L63.0 166.1L64.0 165.8L65.0 165.4L66.0 165.0L67.0 164.6L68.0 164.2L69.0 163.8L70.0 163.4L71.0 163.1L72.0 162.7L73.0 162.4L74.0 162.1L75.0 161.7L76.0 161.6L77.0 161.6L78.0 161.5L79.0 161.5L80.0 161.5L81.0 161.5L82.0 161.6L83.0 161.6L84.0 161.7L85.0 161.7L86.0 161.8L87.0 161.9L88.0 161.9L89.0 162.0L90.0 162.1L91.0 162.4L92.0 162.9L93.0 163.3L94.0 163.8L95.0 164.2L96.0 164.6L97.0 165.0L98.0 165.4L99.0 165.8L100.0 166.2L101.0 166.6L102.0 167.1L103.0 167.6L104.0 168.1L105.0 168.6L106.0 169.1L107.0 169.6L108.0 170.1L109.0 170.6L110.0 171.1L111.0 171.5L112.0 171.7L113.0 171.9L114.0 172.0L115.0 172.2L116.0 172.4L117.0 172.7L118.0 173.1L119.0 173.4L120.0 173.7L121.0 174.1L122.0 174.2L123.0 174.4L124.0 174.5L125.0 174.7L126.0 174.9L127.0 175.1L128.0 175.5L129.0 175.9L130.0 176.2L131.0 176.6L132.0 177.0L133.0 177.4L134.0 177.8L135.0 178.2L136.0 178.6L137.0 179.0L138.0 179.1L139.0 179.3L140.0 179.5L141.0 179.8L142.0 180.0L143.0 180.2L144.0 180.5L145.0 180.8L146.0 181.0L147.0 181.2L148.0 181.5L149.0 181.9L150.0 182.3L151.0 182.7L152.0 183.2L153.0 183.6L154.0 184.0L155.0 184.4L156.0 184.8L157.0 185.1L158.0 185.3L159.0 185.6L160.0 185.9L161.0 186.1L162.0 186.4L163.0 186.6L164.0 186.9L165.0 187.0L166.0 187.1L167.0 187.2L168.0 187.4L169.0 187.5L170.0 187.6L171.0 187.7L172.0 187.8L173.0 187.7L174.0 187.7L175.0 187.6L176.0 187.6L177.0 187.5L178.0 187.4L179.0 187.4L180.0 187.3L181.0 187.2L182.0 187.1L183.0 187.0L184.0 186.9L185.0 186.9L186.0 186.8L187.0 186.7L188.0 186.6L189.0 186.7L190.0 186.7L191.0 186.8L192.0 186.8L193.0 186.8L194.0 186.9L195.0 186.9L196.0 187.0L197.0 187.2L198.0 187.3L199.0 187.5L200.0 187.7L201.0 187.9L202.0 188.1L203.0 188.2L204.0 188.4L205.0 188.5L206.0 188.6L207.0 188.8L208.0 188.9L209.0 189.0L210.0 189.4L211.0 189.9L212.0 190.3L213.0 190.7L214.0 191.2L215.0 191.6L216.0 191.8L217.0 192.1L218.0 192.3L219.0 192.6L220.0 192.8L221.0 193.0L222.0 193.3L223.0 193.5L224.0 193.8L225.0 194.0L226.0 194.2L227.0 194.3L228.0 194.5L229.0 194.6L230.0 194.8L231.0 195.0L232.0 195.1L233.0 195.3L234.0 195.4L235.0 195.6L236.0 195.7L237.0 195.9L238.0 196.0L239.0 196.2L240.0 196.3L241.0 196.4L242.0 196.6L243.0 196.7L244.0 196.9L245.0 197.0L246.0 197.1L247.0 197.3L248.0 197.4L249.0 197.6L250.0 197.7L251.0 197.8L252.0 198.0L253.0 198.1L254.0 198.3L255.0 198.4L256.0 198.5L257.0 198.5L258.0 198.6L259.0 198.6L260.0 198.7L261.0 198.8L262.0 198.8L263.0 198.9L264.0 198.9L265.0 199.0L266.0 199.1L267.0 199.2L268.0 199.3L269.0 199.4L270.0 199.5L271.0 199.6L272.0 199.7L273.0 199.8L274.0 199.9L275.0 200.0L276.0 200.1L277.0 200.1L278.0 200.2L279.0 200.2L280.0 200.3L281.0 200.4L282.0 200.4L283.0 200.5L284.0 200.5L285.0 200.6L286.0 200.7L287.0 200.8L288.0 200.8L289.0 200.9L290.0 201.0L291.0 201.1L292.0 201.2L293.0 201.2L294.0 201.3L295.0 201.4L296.0 201.5L297.0 201.5L298.0 201.6L299.0 201.6L300.0 201.7L301.0 201.8L302.0 201.8L303.0 201.9L304.0 201.9L305.0 202.0L306.0 202.0L307.0 202.1L308.0 202.1L309.0 202.2L310.0 202.2L311.0 202.2L312.0 202.3L313.0 202.3L314.0 202.4L315.0 202.4L316.0 202.5L317.0 202.5L318.0 202.6L319.0 202.6L320.0 202.7L321.0 202.8L322.0 202.8L323.0 202.9L324.0 202.9L325.0 203.0L326.0 203.0L327.0 203.0L328.0 203.0L329.0 203.0L330.0 203.0L331.0 203.0L332.0 203.0L333.0 203.0L334.0 203.0L335.0 203.0L336.0 203.1L337.0 203.1L338.0 203.2L339.0 203.3L340.0 203.3L341.0 203.4L342.0 203.5L343.0 203.5L344.0 203.6" stroke="#1a66e0" stroke-width="3.4"/>
<path d="M25.0 170.7L25.2 167.6L25.4 166.8L25.6 162.3L25.8 165.9L26.0 165.7L26.2 166.3L26.4 165.0L26.6 166.3L26.8 165.3L27.0 163.4L27.2 168.4L27.4 168.4L27.6 170.2L27.8 166.4L28.0 165.4L28.2 165.0L28.4 162.7L28.6 168.5L28.8 163.7L29.0 163.5L29.2 165.7L29.4 169.5L29.6 166.7L29.8 163.8L30.0 164.4L30.2 167.5L30.4 165.7L30.6 164.3L30.8 165.5L31.0 167.7L31.2 170.5L31.4 163.1L31.6 164.5L31.8 164.1L32.0 160.6L32.2 163.7L32.4 163.5L32.6 168.4L32.8 165.5L33.0 162.1L33.2 167.3L33.4 165.1L33.6 161.9L33.8 164.6L34.0 164.6L34.2 164.0L34.4 166.0L34.6 160.9L34.8 165.4L35.0 168.3L35.2 168.0L35.4 168.6L35.6 168.6L35.8 169.5L36.0 163.6L36.2 168.1L36.4 161.9L36.6 164.8L36.8 161.9L37.0 168.6L37.2 169.3L37.4 165.8L37.6 170.3L37.8 164.8L38.0 166.6L38.2 166.7L38.4 163.9L38.6 167.4L38.8 170.8L39.0 164.1L39.2 168.5L39.4 166.1L39.6 170.5L39.8 167.6L40.0 168.0L40.2 168.0L40.4 167.1L40.6 163.4L40.8 169.7L41.0 163.5L41.2 167.2L41.4 168.0L41.6 164.8L41.8 167.0L42.0 169.3L42.2 166.7L42.4 164.7L42.6 161.6L42.8 164.6L43.0 165.5L43.2 165.7L43.4 164.7L43.6 167.7L43.8 165.6L44.0 166.7L44.2 168.5L44.4 165.1L44.6 166.3L44.8 171.9L45.0 169.0L45.2 164.2L45.4 166.9L45.6 168.4L45.8 169.9L46.0 167.5L46.2 166.0L46.4 165.6L46.6 168.7L46.8 168.0L47.0 166.1L47.2 166.9L47.4 166.4L47.6 169.0L47.8 165.8L48.0 168.5L48.2 169.3L48.4 168.5L48.6 165.6L48.8 170.5L49.0 166.0L49.2 168.5L49.4 165.9L49.6 163.7L49.8 168.1L50.0 168.3L50.2 167.5L50.4 168.3L50.6 166.2L50.8 166.1L51.0 167.4L51.2 172.0L51.4 169.6L51.6 166.6L51.8 169.1L52.0 166.8L52.2 166.8L52.4 169.8L52.6 166.7L52.8 164.2L53.0 165.9L53.2 168.2L53.4 168.3L53.6 170.8L53.8 166.4L54.0 169.7L54.2 169.0L54.4 167.7L54.6 170.0L54.8 169.2L55.0 166.2L55.2 170.5L55.4 165.5L55.6 168.3L55.8 168.2L56.0 169.2L56.2 166.7L56.4 168.2L56.6 168.0L56.8 170.4L57.0 166.4L57.2 168.3L57.4 167.5L57.6 165.1L57.8 173.0L58.0 167.7L58.2 164.5L58.4 170.8L58.6 165.3L58.8 168.4L59.0 169.4L59.2 166.0L59.4 166.4L59.6 166.1L59.8 166.9L60.0 163.6L60.2 164.4L60.4 166.7L60.6 169.2L60.8 168.3L61.0 170.6L61.2 168.3L61.4 165.6L61.6 166.3L61.8 162.1L62.0 164.4L62.2 164.2L62.4 166.9L62.6 167.7L62.8 165.0L63.0 164.8L63.2 162.7L63.4 165.7L63.6 166.5L63.8 166.8L64.0 164.0L64.2 170.1L64.4 168.2L64.6 165.3L64.8 164.3L65.0 164.7L65.2 165.6L65.4 165.2L65.6 166.2L65.8 166.7L66.0 168.0L66.2 167.4L66.4 164.6L66.6 165.6L66.8 163.8L67.0 163.3L67.2 168.7L67.4 163.4L67.6 168.7L67.8 163.5L68.0 164.8L68.2 166.5L68.4 164.1L68.6 164.8L68.8 163.4L69.0 162.8L69.2 163.4L69.4 162.2L69.6 167.1L69.8 163.1L70.0 167.2L70.2 158.3L70.4 163.3L70.6 164.4L70.8 162.5L71.0 165.5L71.2 164.4L71.4 162.3L71.6 163.8L71.8 167.8L72.0 163.3L72.2 163.3L72.4 161.6L72.6 162.8L72.8 159.7L73.0 162.0L73.2 167.3L73.4 164.6L73.6 163.6L73.8 164.5L74.0 166.1L74.2 163.3L74.4 166.4L74.6 164.2L74.8 162.2L75.0 165.5L75.2 156.7L75.4 160.4L75.6 162.2L75.8 159.6L76.0 161.2L76.2 160.2L76.4 160.2L76.6 166.5L76.8 162.9L77.0 161.4L77.2 164.4L77.4 161.0L77.6 163.5L77.8 162.3L78.0 165.1L78.2 158.5L78.4 163.2L78.6 161.8L78.8 159.0L79.0 163.8L79.2 159.6L79.4 165.0L79.6 162.6L79.8 163.0L80.0 161.7L80.2 163.5L80.4 157.5L80.6 161.7L80.8 160.2L81.0 162.1L81.2 161.4L81.4 162.9L81.6 159.8L81.8 165.5L82.0 166.5L82.2 161.1L82.4 161.6L82.6 162.2L82.8 164.3L83.0 165.7L83.2 159.0L83.4 160.3L83.6 159.4L83.8 159.3L84.0 158.1L84.2 162.4L84.4 159.2L84.6 164.9L84.8 163.6L85.0 159.5L85.2 159.5L85.4 160.4L85.6 164.7L85.8 159.9L86.0 158.6L86.2 161.7L86.4 162.6L86.6 160.4L86.8 165.3L87.0 162.4L87.2 162.8L87.4 160.1L87.6 161.8L87.8 161.6L88.0 157.1L88.2 162.6L88.4 158.1L88.6 161.9L88.8 158.8L89.0 166.3L89.2 162.7L89.4 163.9L89.6 164.0L89.8 159.2L90.0 157.2L90.2 161.4L90.4 164.1L90.6 162.4L90.8 164.0L91.0 164.4L91.2 159.3L91.4 163.2L91.6 166.9L91.8 161.6L92.0 158.6L92.2 162.5L92.4 162.1L92.6 164.0L92.8 161.3L93.0 163.5L93.2 158.7L93.4 165.3L93.6 166.9L93.8 166.4L94.0 160.6L94.2 164.5L94.4 159.1L94.6 164.6L94.8 164.0L95.0 162.1L95.2 165.0L95.4 164.7L95.6 166.5L95.8 164.8L96.0 165.1L96.2 160.6L96.4 162.3L96.6 163.9L96.8 165.6L97.0 165.0L97.2 168.3L97.4 163.3L97.6 164.7L97.8 165.9L98.0 164.9L98.2 166.5L98.4 164.4L98.6 168.6L98.8 165.0L99.0 168.1L99.2 165.8L99.4 169.1L99.6 163.1L99.8 167.2L100.0 165.3L100.2 166.7L100.4 168.8L100.6 164.0L100.8 163.7L101.0 164.5L101.2 167.2L101.4 162.8L101.6 167.1L101.8 164.3L102.0 164.7L102.2 166.4L102.4 168.1L102.6 166.1L102.8 166.5L103.0 167.5L103.2 167.1L103.4 163.0L103.6 167.0L103.8 168.1L104.0 170.4L104.2 172.4L104.4 169.7L104.6 168.5L104.8 166.5L105.0 168.7L105.2 170.3L105.4 171.4L105.6 167.0L105.8 169.4L106.0 170.7L106.2 173.0L106.4 169.8L106.6 168.2L106.8 168.0L107.0 168.8L107.2 168.3L107.4 171.5L107.6 172.1L107.8 171.4L108.0 172.5L108.2 169.2L108.4 171.0L108.6 169.6L108.8 170.5L109.0 173.1L109.2 170.6L109.4 166.9L109.6 170.3L109.8 169.5L110.0 167.9L110.2 169.5L110.4 173.2L110.6 174.8L110.8 170.4L111.0 173.6L111.2 174.0L111.4 169.2L111.6 171.5L111.8 171.6L112.0 172.0L112.2 168.5L112.4 171.0L112.6 174.0L112.8 174.4L113.0 175.6L113.2 171.2L113.4 175.8L113.6 173.3L113.8 169.2L114.0 173.6L114.2 171.4L114.4 173.2L114.6 171.9L114.8 174.7L115.0 172.7L115.2 171.7L115.4 174.3L115.6 172.9L115.8 171.5L116.0 175.0L116.2 171.6L116.4 171.2L116.6 171.5L116.8 169.7L117.0 171.6L117.2 176.6L117.4 171.0L117.6 173.0L117.8 170.8L118.0 171.8L118.2 176.2L118.4 175.0L118.6 172.0L118.8 173.3L119.0 171.7L119.2 171.9L119.4 171.7L119.6 171.8L119.8 174.3L120.0 174.9L120.2 174.8L120.4 173.5L120.6 171.2L120.8 173.9L121.0 172.2L121.2 175.9L121.4 175.3L121.6 175.7L121.8 173.5L122.0 170.6L122.2 176.2L122.4 176.8L122.6 171.3L122.8 174.6L123.0 176.8L123.2 172.3L123.4 178.0L123.6 173.8L123.8 172.4L124.0 177.3L124.2 175.2L124.4 173.3L124.6 176.4L124.8 170.8L125.0 178.3L125.2 173.1L125.4 175.3L125.6 174.0L125.8 175.7L126.0 176.6L126.2 173.2L126.4 176.5L126.6 174.4L126.8 173.7L127.0 174.7L127.2 173.2L127.4 173.7L127.6 177.2L127.8 175.1L128.0 177.8L128.2 176.4L128.4 173.6L128.6 171.9L128.8 174.4L129.0 176.4L129.2 175.9L129.4 174.3L129.6 178.1L129.8 172.7L130.0 173.7L130.2 176.5L130.4 180.7L130.6 177.2L130.8 174.5L131.0 177.7L131.2 178.0L131.4 178.6L131.6 176.0L131.8 175.3L132.0 177.2L132.2 177.9L132.4 180.3L132.6 181.3L132.8 175.8L133.0 176.3L133.2 177.3L133.4 177.1L133.6 178.6L133.8 178.7L134.0 178.3L134.2 180.5L134.4 177.7L134.6 176.0L134.8 175.1L135.0 176.2L135.2 176.3L135.4 174.7L135.6 179.8L135.8 178.9L136.0 177.8L136.2 177.0L136.4 175.7L136.6 177.1L136.8 182.5L137.0 174.7L137.2 179.3L137.4 180.5L137.6 179.3L137.8 178.5L138.0 180.6L138.2 177.0L138.4 180.3L138.6 182.0L138.8 177.3L139.0 177.7L139.2 179.6L139.4 181.3L139.6 182.0L139.8 180.8L140.0 178.2L140.2 177.4L140.4 180.1L140.6 180.4L140.8 177.6L141.0 179.9L141.2 180.4L141.4 181.9L141.6 178.0L141.8 181.0L142.0 177.7L142.2 179.2L142.4 179.9L142.6 183.1L142.8 184.6L143.0 180.7L143.2 181.3L143.4 182.3L143.6 177.8L143.8 181.9L144.0 178.1L144.2 183.7L144.4 183.4L144.6 181.6L144.8 179.2L145.0 184.0L145.2 181.3L145.4 181.1L145.6 182.0L145.8 177.7L146.0 181.8L146.2 183.0L146.4 181.7L146.6 181.4L146.8 179.4L147.0 182.5L147.2 181.7L147.4 181.4L147.6 180.3L147.8 183.1L148.0 183.9L148.2 182.3L148.4 183.4L148.6 184.3L148.8 184.9L149.0 182.3L149.2 181.6L149.4 181.3L149.6 182.2L149.8 183.3L150.0 184.1L150.2 181.6L150.4 182.8L150.6 180.7L150.8 185.1L151.0 182.0L151.2 183.5L151.4 181.5L151.6 182.4L151.8 181.8L152.0 186.4L152.2 183.9L152.4 183.0L152.6 181.6L152.8 182.3L153.0 184.6L153.2 186.8L153.4 181.0L153.6 182.1L153.8 183.6L154.0 182.8L154.2 180.9L154.4 184.2L154.6 185.6L154.8 181.3L155.0 184.8L155.2 186.3L155.4 186.4L155.6 183.8L155.8 189.0L156.0 185.8L156.2 183.3L156.4 186.7L156.6 182.9L156.8 186.7L157.0 182.7L157.2 186.6L157.4 184.1L157.6 187.3L157.8 186.7L158.0 186.2L158.2 185.5L158.4 187.5L158.6 182.1L158.8 186.3L159.0 186.4L159.2 186.7L159.4 187.2L159.6 190.0L159.8 186.0L160.0 187.3L160.2 186.2L160.4 188.9L160.6 182.3L160.8 189.2L161.0 184.8L161.2 182.0L161.4 184.2L161.6 185.9L161.8 186.7L162.0 186.3L162.2 187.9L162.4 186.4L162.6 186.4L162.8 182.6L163.0 187.5L163.2 188.6L163.4 186.0L163.6 183.3L163.8 184.4L164.0 190.0L164.2 185.8L164.4 185.7L164.6 185.5L164.8 188.2L165.0 185.9L165.2 185.4L165.4 184.3L165.6 186.9L165.8 188.9L166.0 186.9L166.2 188.8L166.4 187.5L166.6 187.5L166.8 187.5L167.0 187.3L167.2 189.1L167.4 188.2L167.6 186.2L167.8 187.6L168.0 187.2L168.2 188.3L168.4 187.7L168.6 188.2L168.8 184.7L169.0 188.2L169.2 189.9L169.4 185.0L169.6 190.4L169.8 188.1L170.0 187.2L170.2 184.3L170.4 189.6L170.6 185.9L170.8 186.7L171.0 188.7L171.2 185.8L171.4 185.9L171.6 185.7L171.8 187.6L172.0 188.9L172.2 188.5L172.4 188.5L172.6 187.1L172.8 188.0L173.0 186.5L173.2 191.3L173.4 188.1L173.6 184.2L173.8 185.8L174.0 190.6L174.2 185.2L174.4 186.9L174.6 188.4L174.8 185.7L175.0 189.5L175.2 190.6L175.4 186.1L175.6 189.6L175.8 186.0L176.0 185.8L176.2 188.0L176.4 188.0L176.6 186.4L176.8 189.0L177.0 184.9L177.2 185.9L177.4 185.5L177.6 188.8L177.8 188.9L178.0 188.6L178.2 185.1L178.4 187.6L178.6 188.2L178.8 184.5L179.0 185.9L179.2 188.5L179.4 188.6L179.6 187.8L179.8 188.3L180.0 187.9L180.2 187.5L180.4 187.1L180.6 185.7L180.8 186.8L181.0 186.5L181.2 191.3L181.4 187.6L181.6 187.1L181.8 186.7L182.0 186.9L182.2 186.6L182.4 188.1L182.6 187.0L182.8 188.5L183.0 185.8L183.2 187.6L183.4 188.6L183.6 184.9L183.8 187.3L184.0 187.4L184.2 186.3L184.4 186.1L184.6 183.6L184.8 188.9L185.0 185.2L185.2 184.7L185.4 188.0L185.6 183.6L185.8 188.5L186.0 187.5L186.2 187.8L186.4 186.5L186.6 184.6L186.8 183.4L187.0 189.2L187.2 185.8L187.4 185.7L187.6 189.4L187.8 185.5L188.0 186.2L188.2 186.2L188.4 186.4L188.6 184.8L188.8 185.7L189.0 188.9L189.2 188.0L189.4 182.7L189.6 183.3L189.8 187.3L190.0 186.5L190.2 186.1L190.4 188.5L190.6 183.6L190.8 188.8L191.0 187.0L191.2 187.7L191.4 187.2L191.6 188.2L191.8 186.4L192.0 185.9L192.2 188.2L192.4 187.1L192.6 184.7L192.8 189.2L193.0 188.9L193.2 189.3L193.4 187.0L193.6 187.5L193.8 186.2L194.0 185.2L194.2 187.0L194.4 187.2L194.6 185.8L194.8 190.1L195.0 184.2L195.2 185.6L195.4 185.8L195.6 189.2L195.8 186.5L196.0 186.4L196.2 185.5L196.4 185.8L196.6 184.9L196.8 188.9L197.0 188.2L197.2 188.9L197.4 186.1L197.6 191.2L197.8 185.6L198.0 183.8L198.2 186.9L198.4 187.7L198.6 188.7L198.8 185.8L199.0 188.5L199.2 190.5L199.4 186.1L199.6 186.4L199.8 184.8L200.0 188.1L200.2 189.2L200.4 189.1L200.6 189.2L200.8 190.2L201.0 188.1L201.2 189.5L201.4 186.3L201.6 186.6L201.8 188.4L202.0 186.7L202.2 189.1L202.4 190.5L202.6 188.8L202.8 186.9L203.0 187.0L203.2 190.6L203.4 186.9L203.6 188.5L203.8 187.9L204.0 188.5L204.2 190.3L204.4 187.5L204.6 186.1L204.8 191.0L205.0 188.9L205.2 189.8L205.4 188.5L205.6 189.9L205.8 190.8L206.0 191.0L206.2 188.2L206.4 188.1L206.6 189.4L206.8 189.1L207.0 189.7L207.2 187.6L207.4 184.9L207.6 189.6L207.8 190.2L208.0 190.0L208.2 191.7L208.4 190.4L208.6 188.3L208.8 190.6L209.0 188.9L209.2 191.2L209.4 189.6L209.6 190.0L209.8 189.7L210.0 189.5L210.2 187.0L210.4 189.7L210.6 185.9L210.8 190.6L211.0 191.5L211.2 193.4L211.4 190.7L211.6 188.9L211.8 187.5L212.0 193.6L212.2 188.0L212.4 192.0L212.6 186.7L212.8 190.6L213.0 191.9L213.2 191.4L213.4 190.8L213.6 189.6L213.8 189.6L214.0 192.9L214.2 192.0L214.4 191.1L214.6 191.8L214.8 190.0L215.0 193.3L215.2 193.8L215.4 190.4L215.6 191.9L215.8 193.6L216.0 190.8L216.2 195.3L216.4 194.5L216.6 191.5L216.8 193.7L217.0 194.9L217.2 190.0L217.4 193.2L217.6 192.0L217.8 191.9L218.0 193.5L218.2 191.6L218.4 190.1L218.6 190.1L218.8 192.5L219.0 193.6L219.2 192.6L219.4 192.4L219.6 192.7L219.8 194.9L220.0 193.7L220.2 191.6L220.4 192.4L220.6 195.0L220.8 192.0L221.0 192.4L221.2 193.0L221.4 191.4L221.6 194.7L221.8 189.6L222.0 195.7L222.2 192.6L222.4 191.3L222.6 193.9L222.8 190.6L223.0 194.4L223.2 194.9L223.4 192.7L223.6 193.0L223.8 195.3L224.0 192.6L224.2 193.8L224.4 194.4L224.6 196.5L224.8 193.1L225.0 194.1L225.2 195.9L225.4 190.2L225.6 193.6L225.8 191.0L226.0 191.1L226.2 197.4L226.4 194.6L226.6 196.7L226.8 193.9L227.0 195.2L227.2 193.6L227.4 193.5L227.6 194.3L227.8 194.7L228.0 197.0L228.2 194.2L228.4 195.2L228.6 194.1L228.8 194.8L229.0 192.5L229.2 196.5L229.4 193.8L229.6 194.8L229.8 194.4L230.0 196.4L230.2 195.7L230.4 194.9L230.6 195.2L230.8 195.5L231.0 196.2L231.2 195.8L231.4 197.2L231.6 197.7L231.8 196.1L232.0 192.9L232.2 198.0L232.4 198.7L232.6 194.6L232.8 194.6L233.0 191.9L233.2 196.6L233.4 193.7L233.6 198.4L233.8 191.6L234.0 195.6L234.2 196.6L234.4 194.8L234.6 194.2L234.8 196.0L235.0 194.7L235.2 195.1L235.4 195.6L235.6 194.8L235.8 195.3L236.0 197.0L236.2 195.1L236.4 196.1L236.6 194.6L236.8 197.4L237.0 193.8L237.2 197.5L237.4 192.1L237.6 194.5L237.8 193.4L238.0 197.7L238.2 196.5L238.4 193.9L238.6 195.2L238.8 198.3L239.0 196.0L239.2 197.1L239.4 193.7L239.6 193.7L239.8 197.2L240.0 200.1L240.2 195.4L240.4 197.3L240.6 194.8L240.8 198.4L241.0 195.7L241.2 195.7L241.4 193.3L241.6 195.8L241.8 196.8L242.0 198.8L242.2 194.6L242.4 198.2L242.6 196.0L242.8 196.2L243.0 195.1L243.2 193.9L243.4 194.7L243.6 199.4L243.8 194.8L244.0 196.1L244.2 198.6L244.4 193.4L244.6 197.6L244.8 196.1L245.0 197.2L245.2 198.4L245.4 196.7L245.6 196.7L245.8 198.2L246.0 198.1L246.2 195.9L246.4 196.8L246.6 194.9L246.8 199.3L247.0 195.2L247.2 197.5L247.4 200.1L247.6 198.6L247.8 196.8L248.0 196.1L248.2 196.3L248.4 198.9L248.6 198.0L248.8 197.5L249.0 201.3L249.2 196.2L249.4 196.8L249.6 197.0L249.8 198.0L250.0 198.2L250.2 197.2L250.4 198.9L250.6 198.6L250.8 197.3L251.0 194.1L251.2 199.1L251.4 196.3L251.6 196.8L251.8 197.6L252.0 195.9L252.2 196.6L252.4 198.0L252.6 197.4L252.8 198.5L253.0 196.6L253.2 197.6L253.4 196.3L253.6 197.6L253.8 198.6L254.0 197.7L254.2 195.8L254.4 197.9L254.6 198.4L254.8 200.1L255.0 198.2L255.2 197.6L255.4 196.4L255.6 201.5L255.8 196.8L256.0 196.5L256.2 198.1L256.4 195.4L256.6 200.1L256.8 198.7L257.0 199.2L257.2 196.8L257.4 197.6L257.6 199.8L257.8 199.9L258.0 202.3L258.2 200.3L258.4 195.4L258.6 198.6L258.8 197.9L259.0 200.3L259.2 198.4L259.4 199.4L259.6 198.1L259.8 199.6L260.0 201.0L260.2 197.6L260.4 195.3L260.6 197.0L260.8 201.2L261.0 199.0L261.2 198.2L261.4 197.1L261.6 200.4L261.8 199.2L262.0 198.6L262.2 197.9L262.4 198.5L262.6 198.3L262.8 199.7L263.0 200.8L263.2 195.6L263.4 196.5L263.6 198.7L263.8 199.0L264.0 196.4L264.2 197.9L264.4 198.2L264.6 198.2L264.8 198.2L265.0 198.8L265.2 200.4L265.4 200.1L265.6 199.9L265.8 199.4L266.0 197.9L266.2 198.3L266.4 200.2L266.6 199.3L266.8 200.4L267.0 199.5L267.2 199.2L267.4 199.9L267.6 196.7L267.8 198.9L268.0 198.3L268.2 200.6L268.4 198.2L268.6 199.6L268.8 198.6L269.0 200.1L269.2 200.5L269.4 199.0L269.6 199.5L269.8 199.7L270.0 200.6L270.2 198.9L270.4 199.5L270.6 198.8L270.8 197.9L271.0 199.8L271.2 200.2L271.4 198.2L271.6 202.1L271.8 198.4L272.0 200.8L272.2 200.2L272.4 196.9L272.6 199.6L272.8 197.1L273.0 199.5L273.2 200.8L273.4 202.7L273.6 201.0L273.8 197.3L274.0 199.2L274.2 202.2L274.4 200.1L274.6 202.7L274.8 198.7L275.0 199.0L275.2 197.7L275.4 199.3L275.6 201.9L275.8 198.4L276.0 201.3L276.2 200.7L276.4 201.2L276.6 199.6L276.8 200.0L277.0 203.4L277.2 198.0L277.4 201.2L277.6 202.5L277.8 200.8L278.0 202.7L278.2 196.5L278.4 199.6L278.6 198.2L278.8 199.4L279.0 199.9L279.2 200.9L279.4 198.8L279.6 201.5L279.8 197.6L280.0 201.7L280.2 199.8L280.4 197.3L280.6 197.4L280.8 197.3L281.0 198.6L281.2 200.4L281.4 202.3L281.6 201.5L281.8 198.1L282.0 196.8L282.2 199.8L282.4 198.0L282.6 200.0L282.8 199.2L283.0 204.1L283.2 197.6L283.4 200.8L283.6 203.3L283.8 199.7L284.0 199.1L284.2 203.0L284.4 197.0L284.6 197.6L284.8 198.4L285.0 201.0L285.2 201.6L285.4 200.2L285.6 203.9L285.8 200.1L286.0 200.5L286.2 200.0L286.4 202.5L286.6 200.5L286.8 199.9L287.0 203.2L287.2 202.6L287.4 202.2L287.6 198.6L287.8 199.0L288.0 200.3L288.2 200.3L288.4 200.0L288.6 200.4L288.8 201.8L289.0 199.2L289.2 201.2L289.4 200.2L289.6 200.1L289.8 200.4L290.0 202.1L290.2 201.3L290.4 199.7L290.6 201.5L290.8 201.2L291.0 201.6L291.2 200.6L291.4 202.6L291.6 201.7L291.8 199.3L292.0 199.1L292.2 198.9L292.4 201.8L292.6 200.1L292.8 200.6L293.0 201.1L293.2 203.2L293.4 204.7L293.6 201.1L293.8 204.4L294.0 202.2L294.2 203.2L294.4 200.9L294.6 199.4L294.8 202.1L295.0 203.4L295.2 198.9L295.4 201.3L295.6 201.8L295.8 202.4L296.0 199.7L296.2 200.6L296.4 202.9L296.6 204.3L296.8 201.7L297.0 203.1L297.2 201.8L297.4 202.2L297.6 200.9L297.8 201.2L298.0 200.7L298.2 201.7L298.4 203.3L298.6 201.9L298.8 202.7L299.0 200.6L299.2 202.8L299.4 198.1L299.6 199.4L299.8 201.2L300.0 198.8L300.2 202.6L300.4 202.0L300.6 200.3L300.8 201.9L301.0 199.4L301.2 200.3L301.4 201.2L301.6 199.3L301.8 203.4L302.0 200.8L302.2 203.4L302.4 201.6L302.6 202.3L302.8 200.4L303.0 201.4L303.2 201.2L303.4 202.3L303.6 204.1L303.8 201.0L304.0 201.7L304.2 202.5L304.4 203.3L304.6 201.8L304.8 201.4L305.0 201.1L305.2 202.0L305.4 202.4L305.6 201.0L305.8 201.6L306.0 203.2L306.2 202.0L306.4 201.2L306.6 203.2L306.8 203.2L307.0 203.0L307.2 203.1L307.4 201.5L307.6 202.4L307.8 202.6L308.0 202.3L308.2 199.4L308.4 202.1L308.6 202.7L308.8 202.9L309.0 201.7L309.2 202.2L309.4 199.4L309.6 199.9L309.8 198.6L310.0 201.8L310.2 204.7L310.4 204.9L310.6 200.5L310.8 203.2L311.0 204.2L311.2 201.8L311.4 199.2L311.6 204.5L311.8 201.7L312.0 201.7L312.2 204.9L312.4 203.0L312.6 203.6L312.8 204.8L313.0 202.1L313.2 200.8L313.4 203.6L313.6 202.4L313.8 203.5L314.0 203.0L314.2 201.2L314.4 202.5L314.6 201.9L314.8 202.1L315.0 202.4L315.2 203.0L315.4 202.8L315.6 200.5L315.8 203.5L316.0 200.3L316.2 206.0L316.4 201.4L316.6 202.5L316.8 204.6L317.0 202.3L317.2 200.6L317.4 200.4L317.6 203.1L317.8 203.3L318.0 203.9L318.2 203.1L318.4 201.9L318.6 203.4L318.8 204.9L319.0 201.5L319.2 206.2L319.4 202.1L319.6 204.7L319.8 205.7L320.0 204.2L320.2 203.2L320.4 203.9L320.6 204.9L320.8 199.2L321.0 203.5L321.2 202.2L321.4 201.8L321.6 203.0L321.8 203.1L322.0 203.6L322.2 202.0L322.4 204.6L322.6 199.7L322.8 201.4L323.0 201.1L323.2 203.1L323.4 202.2L323.6 203.7L323.8 201.7L324.0 204.9L324.2 204.1L324.4 202.2L324.6 200.4L324.8 201.2L325.0 200.6L325.2 204.9L325.4 204.2L325.6 201.1L325.8 205.9L326.0 202.5L326.2 199.6L326.4 204.7L326.6 205.0L326.8 203.0L327.0 201.6L327.2 204.9L327.4 202.2L327.6 203.0L327.8 203.7L328.0 203.5L328.2 202.3L328.4 201.4L328.6 204.1L328.8 199.6L329.0 203.5L329.2 203.4L329.4 203.8L329.6 202.4L329.8 203.3L330.0 204.2L330.2 201.4L330.4 203.1L330.6 203.6L330.8 201.1L331.0 201.6L331.2 205.4L331.4 204.6L331.6 201.9L331.8 204.1L332.0 203.6L332.2 205.1L332.4 204.7L332.6 199.5L332.8 202.6L333.0 205.1L333.2 205.5L333.4 202.1L333.6 201.1L333.8 203.4L334.0 202.0L334.2 203.0L334.4 201.2L334.6 204.2L334.8 203.9L335.0 203.7L335.2 201.4L335.4 200.5L335.6 201.1L335.8 203.8L336.0 200.4L336.2 204.1L336.4 205.8L336.6 202.2L336.8 202.8L337.0 204.6L337.2 204.5L337.4 202.2L337.6 202.9L337.8 203.4L338.0 202.8L338.2 204.1L338.4 203.7L338.6 205.2L338.8 200.7L339.0 205.1L339.2 204.5L339.4 203.1L339.6 203.9L339.8 204.8L340.0 203.8L340.2 203.0L340.4 203.8L340.6 202.3L340.8 201.4L341.0 202.1L341.2 202.3L341.4 203.7L341.6 204.7L341.8 203.8L342.0 205.7L342.2 203.4L342.4 202.5L342.6 202.4L342.8 202.2L343.0 203.1L343.2 205.6L343.4 201.4L343.6 204.4L343.8 203.6L344.0 204.9" stroke="#1a66e0" stroke-width="1.2"/>
<path d="M25.00 148.51L25.50 147.98L26.00 147.44L26.50 146.91L27.00 146.70L27.50 146.60L28.00 146.56L28.50 146.36L29.00 146.04L29.50 145.74L30.00 145.46L30.50 145.20L31.00 145.05L31.50 145.30L32.00 145.52L32.50 145.75L33.00 145.64L33.50 145.44L34.00 145.24L34.50 145.10L35.00 145.23L35.50 145.41L36.00 145.59L36.50 145.58L37.00 145.44L37.50 145.30L38.00 145.21L38.50 145.20L39.00 145.19L39.50 145.21L40.00 145.41L40.50 145.60L41.00 145.79L41.50 145.79L42.00 145.79L42.50 145.84L43.00 145.78L43.50 145.69L44.00 145.73L44.50 146.06L45.00 146.52L45.50 146.87L46.00 146.68L46.50 146.30L47.00 145.92L47.50 145.72L48.00 145.87L48.50 146.03L49.00 146.18L49.50 146.09L50.00 146.00L50.50 145.91L51.00 145.55L51.50 145.12L52.00 144.68L52.50 144.44L53.00 144.17L53.50 143.86L54.00 143.35L54.50 142.62L55.00 141.88L55.50 141.25L56.00 141.03L56.50 141.15L57.00 141.26L57.50 141.02L58.00 140.86L58.50 140.69L59.00 140.81L59.50 140.38L60.00 139.79L60.50 139.01L61.00 138.13L61.50 137.31L62.00 136.55L62.50 135.89L63.00 135.27L63.50 134.71L64.00 134.30L64.50 133.80L65.00 133.18L65.50 132.20L66.00 131.21L66.50 130.31L67.00 129.50L67.50 128.72L68.00 127.91L68.50 127.16L69.00 126.44L69.50 125.78L70.00 125.33L70.50 124.89L71.00 124.44L71.50 123.82L72.00 123.15L72.50 122.48L73.00 121.85L73.50 121.24L74.00 120.62L74.50 120.01L75.00 119.64L75.50 119.33L76.00 119.02L76.50 118.56L77.00 117.99L77.50 117.42L78.00 116.88L78.50 116.18L79.00 115.49L79.50 114.78L80.00 114.41L80.50 114.30L81.00 114.19L81.50 114.37L82.00 114.78L82.50 115.19L83.00 115.39L83.50 115.37L84.00 115.31L84.50 115.20L85.00 114.92L85.50 114.64L86.00 114.52L86.50 114.85L87.00 115.17L87.50 115.47L88.00 115.68L88.50 115.89L89.00 116.10L89.50 115.99L90.00 115.89L90.50 115.78L91.00 115.97L91.50 116.24L92.00 116.50L92.50 116.52L93.00 116.43L93.50 116.55L94.00 116.79L94.50 117.25L95.00 117.82L95.50 118.38L96.00 118.82L96.50 119.33L97.00 119.95L97.50 120.63L98.00 121.31L98.50 121.66L99.00 122.14L99.50 122.64L100.00 123.17L100.50 123.58L101.00 123.89L101.50 124.21L102.00 124.70L102.50 125.36L103.00 126.03L103.50 126.62L104.00 126.92L104.50 127.07L105.00 127.22L105.50 127.34L106.00 127.47L106.50 127.59L107.00 128.00L107.50 128.49L108.00 128.97L108.50 129.51L109.00 130.08L109.50 130.75L110.00 131.28L110.50 131.57L111.00 131.85L111.50 132.14L112.00 132.03L112.50 131.63L113.00 131.23L113.50 131.25L114.00 131.94L114.50 132.62L115.00 133.17L115.50 133.58L116.00 133.98L116.50 134.66L117.00 135.50L117.50 136.17L118.00 136.67L118.50 136.92L119.00 137.38L119.50 137.88L120.00 138.33L120.50 138.77L121.00 139.22L121.50 139.62L122.00 140.01L122.50 140.41L123.00 140.93L123.50 141.48L124.00 141.90L124.50 142.04L125.00 142.04L125.50 142.09L126.00 142.46L126.50 143.01L127.00 143.57L127.50 144.05L128.00 144.56L128.50 145.06L129.00 145.57L129.50 145.90L130.00 146.18L130.50 146.44L131.00 146.64L131.50 146.83L132.00 147.02L132.50 147.51L133.00 148.17L133.50 148.83L134.00 149.23L134.50 149.24L135.00 149.31L135.50 149.65L136.00 150.19L136.50 150.74L137.00 151.29L137.50 151.68L138.00 151.89L138.50 152.10L139.00 152.35L139.50 152.61L140.00 152.87L140.50 153.03L141.00 153.22L141.50 153.41L142.00 153.65L142.50 153.98L143.00 154.31L143.50 154.79L144.00 155.08L144.50 155.37L145.00 155.66L145.50 155.84L146.00 156.02L146.50 156.20L147.00 156.37L147.50 156.54L148.00 156.72L148.50 157.19L149.00 157.87L149.50 158.51L150.00 158.92L150.50 158.99L151.00 159.06L151.50 159.20L152.00 159.64L152.50 159.98L153.00 160.32L153.50 160.27L154.00 160.23L154.50 160.18L155.00 160.56L155.50 161.14L156.00 161.72L156.50 162.05L157.00 162.23L157.50 162.41L158.00 162.66L158.50 162.56L159.00 162.46L159.50 162.34L160.00 162.15L160.50 162.52L161.00 162.88L161.50 163.25L162.00 163.62L162.50 163.80L163.00 164.06L163.50 164.35L164.00 164.64L164.50 164.98L165.00 165.37L165.50 165.55L166.00 165.51L166.50 165.14L167.00 164.76L167.50 164.48L168.00 164.56L168.50 164.40L169.00 164.24L169.50 163.87L170.00 163.50L170.50 163.55L171.00 163.94L171.50 164.41L172.00 164.88L172.50 165.15L173.00 165.28L173.50 165.34L174.00 165.34L174.50 165.25L175.00 165.16L175.50 165.12L176.00 165.31L176.50 165.46L177.00 165.62L177.50 165.78L178.00 165.95L178.50 166.11L179.00 166.21L179.50 166.22L180.00 166.22L180.50 166.10L181.00 165.88L181.50 165.67L182.00 165.66L182.50 165.62L183.00 165.59L183.50 165.48L184.00 165.08L184.50 165.00L185.00 164.92L185.50 164.61L186.00 164.29L186.50 163.98L187.00 164.14L187.50 164.72L188.00 165.29L188.50 165.63L189.00 165.83L189.50 166.18L190.00 166.56L190.50 166.98L191.00 167.40L191.50 167.15L192.00 166.78L192.50 166.42L193.00 166.06L193.50 166.02L194.00 165.98L194.50 165.94L195.00 166.25L195.50 166.66L196.00 167.06L196.50 167.33L197.00 167.42L197.50 167.51L198.00 167.62L198.50 167.75L199.00 167.87L199.50 167.94L200.00 168.07L200.50 168.21L201.00 168.34L201.50 168.79L202.00 169.24L202.50 169.72L203.00 169.81L203.50 169.79L204.00 169.77L204.50 169.92L205.00 170.17L205.50 170.40L206.00 170.62L206.50 170.82L207.00 171.03L207.50 171.25L208.00 171.52L208.50 171.79L209.00 172.06L209.50 172.14L210.00 172.23L210.50 172.32L211.00 172.32L211.50 172.30L212.00 172.28L212.50 172.48L213.00 172.84L213.50 173.19L214.00 173.46L214.50 173.59L215.00 173.72L215.50 173.87L216.00 174.07L216.50 174.27L217.00 174.47L217.50 174.68L218.00 174.90L218.50 175.12L219.00 175.12L219.50 175.07L220.00 175.02L220.50 175.08L221.00 175.20L221.50 175.35L222.00 175.50L222.50 175.64L223.00 175.78L223.50 175.94L224.00 176.19L224.50 176.44L225.00 176.68L225.50 176.69L226.00 176.70L226.50 176.71L227.00 177.03L227.50 177.43L228.00 177.82L228.50 177.97L229.00 177.95L229.50 177.93L230.00 177.94L230.50 178.02L231.00 178.10L231.50 178.18L232.00 178.26L232.50 178.35L233.00 178.43L233.50 178.64L234.00 178.85L234.50 179.06L235.00 179.17L235.50 179.27L236.00 179.36L236.50 179.49L237.00 179.65L237.50 179.81L238.00 179.98L238.50 180.19L239.00 180.39L239.50 180.59L240.00 180.75L240.50 180.91L241.00 181.07L241.50 181.27L242.00 181.48L242.50 181.68L243.00 181.83L243.50 181.97L244.00 182.11L244.50 181.96L245.00 181.63L245.50 181.33L246.00 181.23L246.50 181.42L247.00 181.61L247.50 181.82L248.00 182.12L248.50 182.41L249.00 182.70L249.50 182.53L250.00 182.35L250.50 182.18L251.00 182.42L251.50 182.77L252.00 183.12L252.50 183.11L253.00 182.86L253.50 182.54L254.00 182.43L254.50 182.63L255.00 182.82L255.50 182.96L256.00 182.89L256.50 182.33L257.00 181.76L257.50 181.30L258.00 180.84L258.50 181.58L259.00 182.01L259.50 182.23L260.00 181.98L260.50 181.98L261.00 182.15L261.50 182.32L262.00 182.54L262.50 182.83L263.00 183.12L263.50 183.36L264.00 183.21L264.50 183.07L265.00 182.92L265.50 183.02L266.00 183.12L266.50 183.22L267.00 183.46L267.50 183.77L268.00 184.08L268.50 184.36L269.00 184.63L269.50 184.90L270.00 185.03L270.50 184.65L271.00 184.26L271.50 183.92L272.00 183.78L272.50 184.09L273.00 184.39L273.50 184.68L274.00 184.97L274.50 184.90L275.00 184.96L275.50 185.06L276.00 185.15L276.50 185.22L277.00 185.28L277.50 185.34L278.00 185.27L278.50 185.01L279.00 184.74L279.50 184.71L280.00 185.08L280.50 185.46L281.00 185.83L281.50 185.71L282.00 185.59L282.50 185.47L283.00 185.57L283.50 185.70L284.00 185.83L284.50 185.83L285.00 185.74L285.50 185.64L286.00 185.66L286.50 185.86L287.00 186.05L287.50 186.19L288.00 186.34L288.50 186.49L289.00 186.64L289.50 186.41L290.00 186.19L290.50 185.97L291.00 185.84L291.50 185.79L292.00 185.73L292.50 185.80L293.00 185.94L293.50 186.09L294.00 186.20L294.50 186.26L295.00 186.32L295.50 186.48L296.00 186.66L296.50 186.83L297.00 187.01L297.50 187.17L298.00 187.33L298.50 187.48L299.00 187.47L299.50 187.26L300.00 187.04L300.50 186.99L301.00 187.04L301.50 187.10L302.00 187.18L302.50 187.31L303.00 187.43L303.50 187.48L304.00 187.52L304.50 187.55L305.00 187.59L305.50 187.55L306.00 187.50L306.50 187.46L307.00 187.39L307.50 187.51L308.00 187.64L308.50 187.69L309.00 187.70L309.50 187.70L310.00 187.83L310.50 188.16L311.00 188.48L311.50 188.63L312.00 188.41L312.50 188.19L313.00 187.96L313.50 188.08L314.00 188.20L314.50 188.31L315.00 188.47L315.50 188.61L316.00 188.75L316.50 188.85L317.00 188.92L317.50 189.00L318.00 188.97L318.50 188.80L319.00 188.64L319.50 188.57L320.00 188.81L320.50 189.05L321.00 189.29L321.50 189.16L322.00 189.03L322.50 188.91L323.00 189.02L323.50 189.19L324.00 189.35L324.50 189.27L325.00 189.01L325.50 188.75L326.00 188.61L326.50 188.67L327.00 188.73L327.50 188.89L328.00 189.37L328.50 189.84L329.00 190.32L329.50 190.02L330.00 189.73L330.50 189.44L331.00 189.64L331.50 189.76L332.00 189.88L332.50 189.75L333.00 189.46L333.50 189.17L334.00 188.93L334.50 188.77L335.00 188.61L335.50 188.60L336.00 188.68L336.50 188.76L337.00 188.84L337.50 189.08L338.00 189.31L338.50 189.62L339.00 189.61L339.50 189.52L340.00 189.43L340.50 189.52L341.00 189.74L341.50 189.99L342.00 190.15L342.50 190.15L343.00 190.16L343.50 190.17L344.00 190.18" stroke="#f52a2a" stroke-width="1.3"/>
<path d="M25.00 125.88L25.50 125.77L26.00 125.66L26.50 125.55L27.00 125.06L27.50 124.85L28.00 124.64L28.50 124.71L29.00 124.98L29.50 125.24L30.00 124.88L30.50 123.58L31.00 122.60L31.50 122.90L32.00 123.24L32.50 122.71L33.00 122.19L33.50 121.41L34.00 120.42L34.50 119.43L35.00 119.09L35.50 119.16L36.00 119.24L36.50 119.08L37.00 118.61L37.50 118.13L38.00 117.67L38.50 117.24L39.00 116.80L39.50 116.36L40.00 115.83L40.50 115.31L41.00 114.75L41.50 114.24L42.00 113.73L42.50 113.21L43.00 112.32L43.50 111.37L44.00 108.03L44.50 105.02L45.00 101.70L45.50 97.63L46.00 93.26L46.50 88.59L47.00 84.00L47.50 79.55L48.00 81.72L48.50 83.88L49.00 87.84L49.50 91.82L50.00 95.23L50.50 98.51L51.00 101.93L51.50 104.11L52.00 106.29L52.50 107.17L53.00 106.22L53.50 105.28L54.00 104.72L54.50 104.50L55.00 104.28L55.50 102.04L56.00 101.49L56.50 102.27L57.00 103.05L57.50 102.26L58.00 101.12L58.50 99.99L59.00 99.49L59.50 98.91L60.00 98.24L60.50 97.73L61.00 97.40L61.50 97.10L62.00 96.78L62.50 96.40L63.00 95.35L63.50 94.11L64.00 92.45L64.50 89.32L65.00 86.19L65.50 81.06L66.00 76.23L66.50 70.79L67.00 63.07L67.50 51.62L68.00 42.32L68.50 32.68L69.00 19.41L69.50 10.78L70.00 8.83L70.50 16.88L71.00 26.30L71.50 36.49L72.00 42.38L72.50 47.36L73.00 51.00L73.50 54.44L74.00 56.81L74.50 55.75L75.00 52.48L75.50 50.02L76.00 48.08L76.50 45.87L77.00 46.99L77.50 48.11L78.00 49.93L78.50 54.23L79.00 58.54L79.50 63.25L80.00 68.08L80.50 72.08L81.00 75.54L81.50 78.79L82.00 81.18L82.50 83.58L83.00 85.89L83.50 85.20L84.00 83.77L84.50 82.07L85.00 80.19L85.50 77.62L86.00 75.18L86.50 73.17L87.00 72.29L87.50 73.05L88.00 73.63L88.50 74.76L89.00 78.07L89.50 81.15L90.00 84.23L90.50 86.31L91.00 87.64L91.50 88.95L92.00 90.25L92.50 91.77L93.00 93.47L93.50 93.61L94.00 91.17L94.50 88.40L95.00 85.62L95.50 82.57L96.00 78.38L96.50 74.19L97.00 70.00L97.50 65.92L98.00 62.03L98.50 59.02L99.00 59.10L99.50 59.07L100.00 59.04L100.50 59.19L101.00 60.19L101.50 61.18L102.00 58.22L102.50 55.22L103.00 52.22L103.50 49.22L104.00 51.46L104.50 55.01L105.00 58.75L105.50 62.91L106.00 67.06L106.50 71.77L107.00 76.42L107.50 80.97L108.00 84.86L108.50 88.47L109.00 92.17L109.50 93.43L110.00 94.12L110.50 94.85L111.00 95.15L111.50 95.11L112.00 94.81L112.50 94.09L113.00 91.65L113.50 89.66L114.00 87.67L114.50 86.02L115.00 84.11L115.50 82.11L116.00 80.11L116.50 78.41L117.00 76.89L117.50 76.66L118.00 81.55L118.50 85.93L119.00 90.02L119.50 94.04L120.00 95.53L120.50 96.45L121.00 97.38L121.50 97.88L122.00 97.10L122.50 96.32L123.00 95.53L123.50 95.43L124.00 96.36L124.50 98.49L125.00 102.54L125.50 106.34L126.00 109.12L126.50 111.88L127.00 114.08L127.50 115.54L128.00 117.32L128.50 119.10L129.00 120.49L129.50 121.14L130.00 121.79L130.50 122.43L131.00 122.08L131.50 121.70L132.00 121.31L132.50 122.01L133.00 123.04L133.50 124.08L134.00 124.70L134.50 125.03L135.00 125.36L135.50 125.76L136.00 126.25L136.50 126.70L137.00 127.15L137.50 127.09L138.00 126.97L138.50 126.84L139.00 127.00L139.50 127.23L140.00 127.46L140.50 127.71L141.00 128.09L141.50 128.47L142.00 128.65L142.50 128.53L143.00 128.40L143.50 128.62L144.00 128.92L144.50 129.21L145.00 129.50L145.50 130.61L146.00 131.71L146.50 132.82L147.00 133.42L147.50 133.90L148.00 134.38L148.50 135.14L149.00 136.07L149.50 136.43L150.00 136.70L150.50 136.86L151.00 137.01L151.50 137.19L152.00 137.43L152.50 137.73L153.00 138.04L153.50 138.15L154.00 138.26L154.50 138.38L155.00 138.63L155.50 138.96L156.00 139.29L156.50 139.46L157.00 139.54L157.50 139.62L158.00 139.76L158.50 139.82L159.00 139.88L159.50 140.01L160.00 140.41L160.50 140.80L161.00 141.19L161.50 141.14L162.00 141.09L162.50 141.04L163.00 141.36L163.50 141.78L164.00 142.20L164.50 142.18L165.00 142.00L165.50 141.83L166.00 141.70L166.50 141.65L167.00 141.60L167.50 141.64L168.00 141.50L168.50 141.36L169.00 141.22L169.50 141.71L170.00 142.20L170.50 142.43L171.00 142.15L171.50 141.75L172.00 141.35L172.50 141.13L173.00 141.02L173.50 140.91L174.00 140.75L174.50 140.51L175.00 140.26L175.50 140.01L176.00 139.77L176.50 139.85L177.00 139.94L177.50 140.42L178.00 140.90L178.50 141.38L179.00 141.48L179.50 141.08L180.00 140.67L180.50 140.20L181.00 139.68L181.50 139.31L182.00 139.17L182.50 139.36L183.00 139.55L183.50 139.65L184.00 139.41L184.50 139.03L185.00 138.64L185.50 138.48L186.00 138.33L186.50 138.17L187.00 138.08L187.50 137.99L188.00 137.91L188.50 137.96L189.00 137.84L189.50 137.73L190.00 137.81L190.50 138.13L191.00 138.34L191.50 138.47L192.00 138.29L192.50 138.11L193.00 137.93L193.50 137.60L194.00 137.27L194.50 136.94L195.00 136.85L195.50 136.83L196.00 136.81L196.50 136.46L197.00 136.72L197.50 137.54L198.00 138.46L198.50 137.69L199.00 136.47L199.50 135.14L200.00 134.46L200.50 134.04L201.00 133.63L201.50 133.58L202.00 133.53L202.50 133.49L203.00 133.75L203.50 134.23L204.00 134.70L204.50 134.88L205.00 134.87L205.50 134.86L206.00 134.78L206.50 134.65L207.00 134.52L207.50 134.51L208.00 135.00L208.50 135.49L209.00 135.98L209.50 136.08L210.00 136.18L210.50 136.28L211.00 136.44L211.50 136.67L212.00 136.89L212.50 137.00L213.00 137.05L213.50 137.47L214.00 137.91L214.50 138.25L215.00 138.59L215.50 138.87L216.00 139.17L216.50 139.48L217.00 139.78L217.50 140.16L218.00 140.54L218.50 140.91L219.00 141.29L219.50 141.75L220.00 142.22L220.50 142.74L221.00 143.31L221.50 143.87L222.00 144.35L222.50 144.83L223.00 145.31L223.50 145.56L224.00 145.46L224.50 145.36L225.00 145.26L225.50 145.31L226.00 145.37L226.50 145.43L227.00 145.59L227.50 145.82L228.00 146.06L228.50 146.01L229.00 145.77L229.50 145.54L230.00 145.47L230.50 145.64L231.00 145.81L231.50 146.00L232.00 146.24L232.50 146.48L233.00 146.73L233.50 147.14L234.00 147.56L234.50 147.97L235.00 148.08L235.50 148.13L236.00 148.17L236.50 147.87L237.00 147.55L237.50 147.23L238.00 147.16L238.50 147.46L239.00 147.76L239.50 148.23L240.00 148.20L240.50 148.17L241.00 148.13L241.50 148.64L242.00 149.14L242.50 149.57L243.00 149.64L243.50 149.61L244.00 149.58L244.50 149.80L245.00 150.19L245.50 150.58L246.00 150.86L246.50 150.97L247.00 151.08L247.50 151.19L248.00 151.26L248.50 151.34L249.00 151.42L249.50 151.39L250.00 151.36L250.50 151.33L251.00 151.43L251.50 151.46L252.00 151.49L252.50 151.56L253.00 151.65L253.50 151.75L254.00 151.82L254.50 151.70L255.00 151.59L255.50 151.49L256.00 151.44L256.50 151.40L257.00 150.84L257.50 150.18L258.00 149.52L258.50 150.88L259.00 152.37L259.50 152.80L260.00 153.23L260.50 153.48L261.00 153.60L261.50 153.80L262.00 153.92L262.50 153.93L263.00 153.94L263.50 154.01L264.00 154.30L264.50 154.16L265.00 154.02L265.50 154.28L266.00 154.53L266.50 154.78L267.00 154.55L267.50 154.36L268.00 154.18L268.50 154.00L269.00 153.83L269.50 153.66L270.00 153.56L270.50 153.82L271.00 154.08L271.50 154.37L272.00 154.84L272.50 155.30L273.00 155.77L273.50 155.46L274.00 155.15L274.50 154.84L275.00 154.89L275.50 155.02L276.00 155.15L276.50 155.28L277.00 155.41L277.50 155.76L278.00 156.02L278.50 156.12L279.00 156.23L279.50 156.30L280.00 156.18L280.50 156.09L281.00 156.01L281.50 156.33L282.00 156.65L282.50 156.97L283.00 157.24L283.50 157.50L284.00 157.76L284.50 157.64L285.00 157.54L285.50 157.43L286.00 157.17L286.50 156.65L287.00 156.14L287.50 155.95L288.00 155.96L288.50 155.97L289.00 155.98L289.50 156.08L290.00 156.18L290.50 156.28L291.00 156.51L291.50 156.94L292.00 157.37L292.50 157.71L293.00 158.00L293.50 158.29L294.00 158.55L294.50 158.56L295.00 158.57L295.50 158.55L296.00 158.46L296.50 158.37L297.00 158.28L297.50 158.62L298.00 158.96L298.50 159.30L299.00 159.24L299.50 159.07L300.00 158.91L300.50 158.81L301.00 158.74L301.50 158.68L302.00 158.68L302.50 158.79L303.00 158.90L303.50 159.01L304.00 159.13L304.50 159.25L305.00 159.37L305.50 159.39L306.00 159.42L306.50 159.45L307.00 159.35L307.50 159.23L308.00 159.10L308.50 159.03L309.00 159.00L309.50 158.97L310.00 159.03L310.50 159.24L311.00 159.44L311.50 159.64L312.00 159.83L312.50 160.01L313.00 160.19L313.50 160.05L314.00 159.90L314.50 159.75L315.00 159.97L315.50 160.27L316.00 160.58L316.50 160.54L317.00 160.26L317.50 159.94L318.00 159.79L318.50 159.88L319.00 159.97L319.50 160.09L320.00 160.35L320.50 160.60L321.00 160.86L321.50 160.57L322.00 160.28L322.50 160.00L323.00 160.11L323.50 160.32L324.00 160.53L324.50 160.58L325.00 160.52L325.50 160.47L326.00 160.51L326.50 160.70L327.00 160.89L327.50 160.98L328.00 160.67L328.50 160.36L329.00 160.04L329.50 159.95L330.00 159.86L330.50 159.77L331.00 160.00L331.50 160.31L332.00 160.63L332.50 160.76L333.00 160.78L333.50 160.66L334.00 160.57L334.50 160.50L335.00 160.43L335.50 160.35L336.00 160.23L336.50 160.59L337.00 160.95L337.50 160.87L338.00 160.79L338.50 160.42L339.00 160.49L339.50 160.66L340.00 160.83L340.50 161.04L341.00 161.29L341.50 161.40L342.00 161.50L342.50 161.59L343.00 161.68L343.50 161.74L344.00 161.67" stroke="#383838" stroke-width="1.35"/>
</g>
<rect x="25" y="1.5" width="319.6" height="257.4" fill="none" stroke="#000" stroke-width="1.75"/>
<g stroke="#000" stroke-width="1.4">
<line x1="78.26" y1="258" x2="78.26" y2="254.5"/>
<line x1="131.52" y1="258" x2="131.52" y2="254.5"/>
<line x1="184.78" y1="258" x2="184.78" y2="254.5"/>
<line x1="238.04" y1="258" x2="238.04" y2="254.5"/>
<line x1="291.3" y1="258" x2="291.3" y2="254.5"/>
</g>
<g font-weight="bold" font-size="11.5" text-anchor="middle" fill="#000">
<text x="25.3" y="273.2">10</text>
<text x="78.3" y="273.2">20</text>
<text x="131.5" y="273.2">30</text>
<text x="184.8" y="273.2">40</text>
<text x="238" y="273.2">50</text>
<text x="291.3" y="273.2">60</text>
<text x="344.6" y="273.2">70</text>
</g>
<text transform="translate(184.5,290.1) scale(0.95,1)" font-weight="bold" font-size="14.2" text-anchor="middle">2θ (degree)</text>
<text transform="translate(11.3,125.3) rotate(-90) scale(0.94,1)" font-weight="bold" font-size="14.3" text-anchor="middle">Intentisity (a.u.)</text>
<text transform="translate(0.4,14.1) scale(0.92,1)" font-weight="bold" font-size="17.5">(a)</text>
<g font-weight="bold" font-size="11.7" text-anchor="middle">
<text transform="translate(90.4,110.5) scale(0.94,1)">20.7</text>
<text transform="translate(89.9,152) scale(0.94,1)">20.9</text>
</g>
<g stroke-width="1.45">
<line x1="270" y1="14.1" x2="301" y2="14.1" stroke="#333"/>
<line x1="270" y1="31.2" x2="301" y2="31.2" stroke="#f25050"/>
<line x1="270" y1="47.3" x2="301" y2="47.3" stroke="#1a66e0"/>
<line x1="270" y1="63.4" x2="301" y2="63.4" stroke="#2fa965"/>
</g>
<g font-size="14.2" transform="translate(304,0) scale(0.95,1) translate(-304,0)">
<text x="304" y="19.2">L</text>
<text x="304" y="36.3">Al-L</text>
<text x="304" y="52.4">Cr-L</text>
<text x="304" y="68.8">Zn-L</text>
</g>
</svg>
</body></html>
